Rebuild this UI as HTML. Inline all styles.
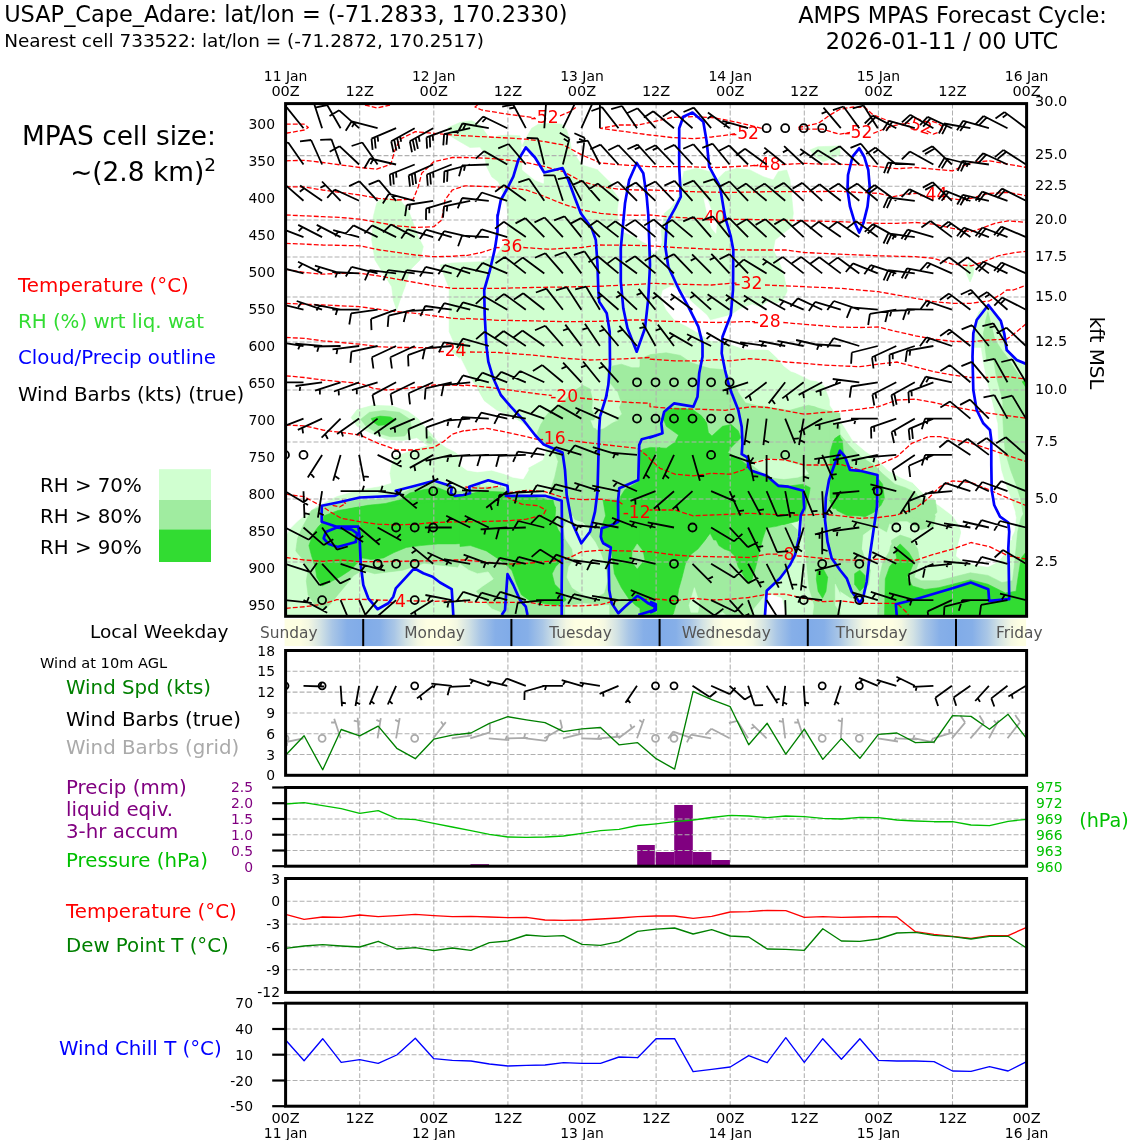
<!DOCTYPE html>
<html><head><meta charset="utf-8"><title>AMPS MPAS Meteogram - USAP_Cape_Adare</title>
<style>html,body{margin:0;padding:0;background:#fff}svg{display:block}</style></head>
<body><svg width="1140" height="1140" viewBox="0 0 1140 1140" font-family="DejaVu Sans, Liberation Sans, sans-serif">
<clipPath id="cm"><rect x="285.6" y="103.6" width="740.9999999999999" height="512.6999999999999"/></clipPath>
<g clip-path="url(#cm)">
<g fill="#d0ffd0" stroke="#d0ffd0" stroke-width="0.6" stroke-linejoin="round">
<polygon points="380.0,200.0 390.0,198.3 400.0,200.0 408.3,210.0 413.3,223.3 418.3,236.7 423.3,246.7 420.0,260.0 410.0,270.0 405.0,286.7 400.0,300.0 396.7,310.0 393.3,300.0 391.7,286.7 383.3,273.3 375.0,260.0 371.7,240.0 373.3,216.7 376.7,203.3"/>
<polygon points="448.3,127.5 460.0,122.5 465.0,121.7 471.7,120.8 480.0,125.0 484.2,130.8 490.0,139.2 498.3,135.8 507.8,135.0 520.0,135.8 521.7,146.7 525.0,140.0 531.7,128.3 538.3,124.2 551.7,123.3 561.7,124.2 566.7,130.0 569.2,138.3 571.7,150.0 581.7,165.0 598.3,170.0 611.7,183.3 618.3,196.7 623.3,198.3 636.7,203.3 660.0,211.7 660.0,360.0 470.0,378.3 465.0,375.0 460.0,356.7 449.2,331.7 449.2,288.3 440.0,265.0 452.0,263.0 465.0,262.5 481.7,261.7 496.7,255.0 507.0,240.0 507.8,215.0 506.7,206.0 505.0,200.0 503.3,193.3 498.3,181.7 491.7,176.7 486.7,166.7 483.3,151.7 480.0,147.0 470.0,147.5 460.0,141.7 450.0,135.8"/>
<polygon points="650.0,210.0 660.0,206.7 670.0,200.0 678.3,183.3 683.3,171.7 696.7,168.3 710.0,171.7 716.7,180.0 725.0,171.7 736.7,168.3 750.0,170.0 763.3,176.7 773.3,180.0 778.3,171.7 786.7,170.0 790.0,180.0 791.7,196.7 793.3,213.3 791.7,226.7 783.3,233.3 775.0,240.0 773.3,250.0 778.3,260.0 783.3,273.3 786.7,286.7 788.3,300.0 780.0,305.0 770.0,300.0 760.0,306.7 746.7,313.3 733.3,316.7 730.0,330.0 728.3,343.3 736.7,346.7 760.0,353.3 776.7,360.0 776.7,366.7 650.0,366.7"/>
<polygon points="810.0,150.0 818.0,146.7 840.0,146.0 840.0,155.0 823.0,161.7 815.0,156.7"/>
<polygon points="965.0,268.0 970.0,262.0 974.0,268.0 973.0,275.0 970.0,282.0 967.0,275.0"/>
<polygon points="286.7,530.0 300.0,516.7 316.7,506.7 336.7,496.7 360.0,490.0 380.0,486.7 391.7,483.3 390.0,473.3 391.7,465.0 395.0,456.7 413.3,450.0 430.0,445.0 436.7,451.7 453.3,460.0 473.3,466.7 493.3,466.7 513.3,463.3 528.3,468.3 543.3,460.0 546.7,450.0 543.3,443.3 528.3,426.7 513.3,416.7 496.7,410.0 483.3,400.0 476.7,386.7 466.7,373.3 461.7,360.0 450.0,350.0 660.0,350.0 660.0,620.0 286.7,620.0"/>
<polygon points="351.1,417.5 357.2,409.6 373.0,405.3 392.3,406.1 408.1,411.4 418.6,419.3 425.6,428.1 432.6,435.1 437.9,442.1 446.7,448.2 455.4,452.6 466.0,461.4 474.7,466.7 480.0,470.2 480.0,482.5 437.9,482.5 392.3,482.5 392.3,470.2 395.8,463.2 406.3,459.6 420.4,457.9 429.1,452.6 430.9,446.5 425.6,443.9 416.8,437.7 402.8,440.4 387.0,439.5 371.2,433.3 357.2,426.3"/>
<polygon points="650.0,350.0 1026.7,350.0 1026.7,616.7 650.0,616.7"/>
<polygon points="986.1,306.3 979.1,311.6 975.6,320.4 977.4,337.9 980.9,358.9 984.4,378.2 987.9,395.8 993.2,409.8 998.4,420.0 1025.6,420.0 1025.6,364.2 1016.0,357.2 1007.2,350.2 1003.7,339.6 996.7,329.1 991.4,315.1"/>
<polygon points="988.3,305.0 976.7,316.7 973.3,333.3 975.0,360.0 1016.7,360.0 1006.7,346.7 1005.0,333.3 998.3,316.7"/>
</g>
<g fill="#ffffff" stroke="#ffffff" stroke-width="0.6" stroke-linejoin="round">
<polygon points="521.7,146.7 522.5,170.0 535.0,180.0 543.3,183.3 544.2,173.3 535.0,157.5 525.8,147.5"/>
<polygon points="766.7,348.0 783.3,363.3 796.7,373.3 810.0,380.0 823.3,381.7 830.0,400.0 836.7,413.3 846.7,426.7 856.7,440.0 870.0,450.0 883.3,463.3 896.7,470.0 910.0,478.3 920.0,490.0 933.3,496.7 943.3,503.3 953.3,513.3 960.0,526.7 966.7,536.7 983.3,543.3 996.7,541.7 1003.3,536.7 1001.7,516.7 999.0,496.7 999.0,476.7 998.3,450.0 997.3,423.3 991.3,400.0 986.3,380.0 983.0,363.3 981.0,350.0 981.0,348.0"/>
<polygon points="662.8,290.5 671.6,286.1 680.4,290.5 692.6,302.8 706.7,315.1 710.2,320.4 731.2,315.1 740.0,308.9 752.3,304.6 762.8,308.1 773.3,306.3 783.9,299.3 788.2,290.5 785.6,280.0 840.0,280.0 840.0,409.8 833.0,406.3 829.5,395.8 824.2,385.3 815.4,380.0 804.9,375.6 790.9,371.2 783.9,366.0 776.8,357.2 769.8,350.2 759.3,347.5 745.3,349.3 733.0,344.9 722.5,341.4 710.2,340.5 697.9,332.6 685.6,325.6 675.1,320.4 666.3,309.8 661.1,297.5"/>
<polygon points="830.0,400.0 830.0,405.3 837.0,415.8 844.0,426.3 852.8,440.4 865.1,450.9 877.4,459.6 887.9,470.2 900.2,477.2 912.5,482.5 921.2,491.2 928.2,498.2 938.8,505.3 952.8,515.8 959.8,526.3 963.3,540.0 1011.6,540.0 1010.7,533.3 1014.2,522.8 1015.1,512.3 1010.7,498.2 1005.4,484.2 1001.1,470.2 998.4,452.6 996.7,435.1 994.0,414.0 991.4,400.0"/>
<polygon points="942.3,500.0 952.8,510.5 959.8,521.1 961.6,531.6 958.1,545.6 956.3,556.1 963.3,561.4 975.6,564.9 987.9,566.7 998.4,561.4 1005.4,552.6 1008.9,542.1 1014.2,531.6 1016.0,517.5 1012.5,507.0 1008.9,500.0"/>
<polygon points="460.0,400.0 481.1,400.0 489.8,410.5 500.4,422.8 512.6,435.1 521.4,447.4 526.7,459.6 528.4,470.2 523.2,478.9 512.6,477.2 503.9,473.7 491.6,470.2 477.5,471.9 467.0,470.2 460.0,464.9"/>
<polygon points="286.1,500.0 320.4,500.0 315.1,507.0 306.3,514.0 297.5,521.1 290.5,528.1 286.1,535.1"/>
<polygon points="768.1,601.8 778.6,605.3 785.6,620.0 768.1,620.0"/>
<polygon points="460.0,357.2 467.0,371.2 474.0,385.3 482.8,399.3 489.8,413.3 493.3,420.0 460.0,420.0"/>
<polygon points="1004.2,340.0 1007.2,350.2 1016.0,357.2 1025.7,364.2 1027.5,364.2 1027.5,340.0"/>
<polygon points="703.7,197.5 707.5,200.0 712.5,213.3 716.7,223.3 715.8,233.3 711.7,228.3 707.5,215.0"/>
<polygon points="598.3,170.0 611.7,183.3 613.2,190.0 619.5,198.4 617.9,208.9 618.4,221.6 623.7,232.1 634.2,236.3 642.6,241.6 648.9,244.7 653.2,253.2 657.4,251.0 661.6,242.6 660.5,230.0 662.6,221.6 663.7,213.2 670.0,207.9 676.3,200.5 679.5,190.0 683.3,171.7 672.0,168.0 640.0,163.0 610.0,165.0"/>
</g>
<g fill="#a0eca0" stroke="#a0eca0" stroke-width="0.6" stroke-linejoin="round">
<polygon points="360.7,419.3 369.5,412.3 383.5,410.5 399.3,412.3 409.8,419.3 411.6,428.1 404.6,436.0 390.5,436.8 376.5,432.5 366.0,426.3"/>
<polygon points="426.5,437.7 430.0,436.0 433.0,439.5 431.2,443.5 427.4,443.0"/>
<polygon points="297.5,540.0 302.8,531.6 315.1,522.8 323.9,514.0 337.9,507.0 353.7,502.6 371.2,500.0 388.8,498.2 399.3,494.7 413.3,487.7 430.9,483.3 444.9,484.2 455.4,491.2 466.0,491.2 480.0,484.2 480.0,540.0"/>
<polygon points="311.6,510.5 320.4,507.0 337.9,503.5 357.2,500.0 480.0,500.0 480.0,566.7 469.5,570.2 455.4,566.7 437.9,564.9 423.9,563.2 413.3,566.7 402.8,570.2 388.8,571.9 374.7,573.7 362.5,570.2 353.7,575.4 346.7,584.2 337.9,594.7 330.9,603.5 323.9,610.5 315.1,605.3 308.1,594.7 306.3,580.7 308.1,570.2 302.8,559.6 295.8,550.9 297.5,538.6 302.8,526.3"/>
<polygon points="607.4,371.2 612.6,366.0 621.4,364.2 631.9,367.7 638.9,367.7 649.5,357.2 660.0,353.7 660.0,420.0 614.4,420.0 621.4,402.8 617.9,392.3 609.1,381.8"/>
<polygon points="542.5,420.0 551.2,409.8 561.8,402.8 572.3,392.3 582.8,385.3 589.8,388.8 592.5,399.3 591.6,409.8 596.8,420.0"/>
<polygon points="544.2,419.3 551.2,412.3 565.3,410.5 579.3,417.5 589.8,419.3 593.3,428.1 600.4,429.8 605.6,424.6 617.9,421.1 623.2,410.5 624.9,400.0 660.0,400.0 660.0,540.0 460.0,540.0 460.0,494.7 470.5,491.2 486.3,486.8 503.9,487.7 507.4,494.7 530.2,495.6 547.7,498.2 551.2,487.7 554.7,477.2 558.2,461.4 554.7,452.6 542.5,443.9 537.2,433.3 540.7,424.6"/>
<polygon points="460.0,500.0 660.0,500.0 660.0,620.0 460.0,620.0"/>
<polygon points="640.0,358.9 650.5,354.6 666.3,352.8 680.4,355.4 690.9,362.5 701.4,366.0 710.2,368.6 722.5,369.5 731.2,378.2 738.2,392.3 745.3,402.8 759.3,406.3 773.3,408.1 787.4,410.7 797.9,413.3 804.9,409.8 811.9,406.3 824.2,409.8 840.0,413.3 840.0,420.0 640.0,420.0"/>
<polygon points="640.0,400.0 741.8,400.0 748.8,407.0 762.8,406.1 773.3,407.9 789.1,410.5 801.4,407.0 808.4,405.3 815.4,407.0 826.0,414.0 833.0,422.8 840.0,426.3 840.0,540.0 640.0,540.0"/>
<polygon points="640.0,500.0 840.0,500.0 840.0,620.0 640.0,620.0"/>
<polygon points="830.0,414.0 835.3,426.3 840.5,435.1 849.3,445.6 859.8,456.1 873.9,464.9 882.6,473.7 894.9,484.2 905.4,487.7 916.0,493.0 921.2,501.8 928.2,508.8 935.3,515.8 933.5,526.3 921.2,529.8 907.2,521.1 900.2,521.1 889.6,522.8 886.1,533.3 882.6,540.0 830.0,540.0"/>
<polygon points="1002.8,400.0 1002.8,417.5 1003.7,435.1 1005.4,452.6 1010.7,470.2 1016.0,484.2 1020.4,498.2 1023.0,512.3 1025.6,519.3 1025.6,400.0"/>
<polygon points="987.9,311.6 985.3,322.1 986.1,337.9 989.6,350.2 994.0,362.5 996.7,378.2 1001.1,394.0 1005.4,409.8 1008.9,420.0 1025.6,420.0 1025.6,381.8 1021.2,378.2 1014.2,367.7 1007.2,357.2 1001.9,350.2 994.9,339.6 990.5,325.6"/>
<polygon points="988.3,313.3 983.3,333.3 986.7,360.0 996.7,360.0 993.3,333.3"/>
<polygon points="830.0,500.0 877.4,500.0 875.6,514.0 868.6,524.6 863.3,535.1 861.6,549.1 865.1,559.6 870.4,570.2 868.6,584.2 861.6,594.7 851.1,598.2 840.5,591.2 835.3,578.9 830.0,573.7"/>
<polygon points="877.4,500.0 935.3,500.0 937.0,512.3 928.2,521.1 912.5,517.5 900.2,517.5 891.4,524.6 882.6,517.5"/>
<polygon points="877.4,620.0 879.1,578.9 882.6,563.2 889.6,550.9 891.4,540.4 900.2,535.1 910.7,538.6 917.7,549.1 919.5,559.6 916.0,570.2 914.2,577.2 921.2,580.7 938.8,580.7 952.8,577.2 970.4,572.8 987.9,575.4 1001.9,582.5 1012.5,580.7 1014.2,566.7 1016.0,549.1 1017.7,531.6 1021.2,517.5 1025.6,510.5 1025.6,620.0"/>
</g>
<g fill="#d0ffd0" stroke="#d0ffd0" stroke-width="0.6" stroke-linejoin="round">
<polygon points="593.3,422.8 598.6,410.5 605.6,403.5 617.9,405.3 621.4,414.0 614.4,421.1 603.9,428.1 596.8,429.8"/>
<polygon points="572.3,519.3 582.8,540.0 589.8,529.8 582.8,522.8"/>
<polygon points="457.4,568.4 460.0,564.0 468.8,570.2 477.5,573.7 488.1,571.9 493.3,578.9 482.8,586.0 475.8,591.2 484.6,601.8 491.6,608.8 500.4,612.3 502.1,620.0 457.4,620.0"/>
<polygon points="567.0,521.1 572.3,515.8 575.8,522.8 582.8,529.8 589.8,535.1 595.1,542.1 600.4,552.6 605.6,566.7 607.4,580.7 603.9,593.0 593.3,598.2 582.8,594.7 572.3,587.7 567.0,577.2 568.8,566.7 574.0,559.6 572.3,549.1 565.3,538.6 563.5,528.1"/>
<polygon points="565.3,607.0 582.8,603.5 609.1,605.3 609.1,620.0 565.3,620.0"/>
<polygon points="755.8,461.4 766.3,458.8 780.4,459.6 792.6,463.2 803.2,465.8 808.4,473.7 797.9,477.2 783.9,478.9 769.8,477.2 759.3,470.2 752.3,464.9"/>
<polygon points="766.3,528.1 780.4,524.6 790.9,522.8 797.9,529.8 799.6,543.9 796.1,557.9 789.1,566.7 780.4,577.2 769.8,587.7 762.8,598.2 754.0,608.8 752.3,620.0 811.9,620.0 813.7,605.3 808.4,587.7 806.7,570.2 804.9,552.6 803.2,535.1 801.4,521.1"/>
<polygon points="689.1,605.3 694.4,587.7 699.6,603.5 697.9,612.3 690.9,612.3"/>
<polygon points="710.2,620.0 722.5,612.3 731.2,620.0"/>
<polygon points="835.3,584.2 840.5,594.7 847.5,605.3 840.5,612.3 835.3,605.3"/>
<polygon points="863.3,535.1 875.6,526.3 887.9,533.3 891.4,543.9 882.6,554.4 870.4,559.6 862.5,549.1"/>
</g>
<g fill="#ffffff" stroke="#ffffff" stroke-width="0.6" stroke-linejoin="round">
<polygon points="766.7,593.3 781.7,598.3 785.8,615.0 765.8,615.0"/>
</g>
<g fill="#32dc32" stroke="#32dc32" stroke-width="0.6" stroke-linejoin="round">
<polygon points="371.2,418.4 380.0,416.1 390.5,417.0 395.8,420.2 388.8,424.6 378.2,425.4 373.0,421.9"/>
<polygon points="316.8,540.0 320.4,526.3 323.9,521.1 332.6,514.0 350.2,508.8 367.7,505.3 385.3,503.5 399.3,500.0 409.8,493.0 423.9,489.5 437.9,487.7 446.7,491.2 455.4,496.5 466.0,495.6 480.0,491.2 480.0,540.0"/>
<polygon points="322.1,522.8 323.9,515.8 337.9,510.5 358.9,507.0 385.3,505.3 402.8,503.5 480.0,500.0 480.0,542.1 455.4,543.9 437.9,543.9 420.4,545.6 406.3,547.4 394.0,552.6 383.5,557.9 371.2,559.6 362.5,557.9 357.2,563.2 350.2,570.2 339.6,577.2 329.1,582.5 322.1,586.0 316.8,577.2 315.1,566.7 311.6,556.1 308.9,545.6 313.3,533.3 318.6,526.3"/>
<polygon points="460.0,497.4 470.5,493.9 486.3,491.2 503.9,492.1 507.4,496.5 530.2,496.8 546.0,499.1 555.6,507.0 553.9,517.5 551.2,524.6 557.4,533.3 563.5,540.0 460.0,540.0"/>
<polygon points="660.0,447.4 649.5,450.9 642.5,457.9 640.7,478.9 637.2,482.5 624.9,489.5 620.5,496.5 620.5,521.1 614.4,526.3 605.6,529.8 603.0,540.0 660.0,540.0"/>
<polygon points="460.0,500.0 553.0,500.0 555.6,510.5 554.7,521.1 558.2,529.8 561.8,535.1 562.6,559.6 555.6,566.7 552.1,573.7 554.7,584.2 561.8,591.2 566.1,600.0 558.2,605.3 544.2,603.5 530.2,600.9 521.4,594.7 516.1,582.5 511.8,570.2 502.1,561.4 486.3,550.9 470.5,545.6 460.0,546.5"/>
<polygon points="603.0,500.0 605.6,515.8 600.4,529.8 602.1,540.4 610.9,547.4 612.6,559.6 614.4,573.7 621.4,587.7 628.4,598.2 635.4,605.3 646.0,612.3 660.0,614.0 660.0,500.0"/>
<polygon points="661.1,420.0 666.3,411.6 675.1,408.9 689.1,410.7 699.6,415.1 704.9,420.0"/>
<polygon points="640.0,450.9 643.5,449.1 650.5,447.4 666.3,448.2 675.1,442.1 678.6,435.1 666.3,426.3 662.8,417.5 666.3,410.5 675.1,407.9 692.6,409.6 701.4,415.8 706.7,422.8 708.4,432.5 711.9,436.0 722.5,426.3 731.2,424.6 738.2,430.7 740.9,437.7 731.2,447.4 727.7,452.6 738.2,457.9 747.0,464.9 752.3,470.2 766.3,477.2 776.8,484.2 789.1,486.0 803.2,484.2 810.2,487.7 808.4,498.2 804.9,512.3 797.9,521.1 783.9,524.6 773.3,522.8 762.8,529.8 752.3,540.0 713.7,540.0 710.2,533.3 704.9,540.0 640.0,540.0"/>
<polygon points="834.7,438.6 840.0,435.1 840.0,487.7 834.7,494.7 831.2,484.2 833.0,461.4 834.7,443.9"/>
<polygon points="640.0,500.0 803.2,500.0 803.2,514.0 797.9,519.3 789.1,522.8 776.8,526.3 766.3,528.1 762.8,538.6 759.3,552.6 755.8,566.7 752.3,578.9 748.8,584.2 743.5,575.4 738.2,566.7 734.7,556.1 729.5,550.9 724.2,549.1 718.9,545.6 713.7,535.1 710.2,531.6 704.9,540.4 697.9,549.1 690.9,554.4 685.6,563.2 682.1,577.2 678.6,589.5 676.8,601.8 673.3,614.0 666.3,620.0 640.0,620.0"/>
<polygon points="817.2,570.2 822.5,567.5 827.7,577.2 826.0,591.2 822.5,598.2 818.1,591.2 816.3,578.9"/>
<polygon points="829.5,500.0 840.0,500.0 840.0,507.0 833.0,508.8"/>
<polygon points="833.5,440.4 838.8,436.0 842.3,440.4 843.2,450.9 849.3,468.4 875.6,475.4 882.6,484.2 884.4,498.2 880.9,505.3 873.9,512.3 865.1,516.7 851.1,514.0 840.5,508.8 833.5,501.8 830.0,498.2 830.0,452.6"/>
<polygon points="1022.1,381.8 1025.6,380.0 1025.6,387.0"/>
<polygon points="830.0,500.0 875.6,500.0 873.9,510.5 865.1,515.8 847.5,515.8 837.0,510.5"/>
<polygon points="854.6,573.7 859.8,570.2 865.1,575.4 865.1,586.0 859.8,591.2 854.6,584.2"/>
<polygon points="884.4,620.0 885.3,578.9 889.6,566.7 896.7,557.9 894.9,549.1 900.2,543.9 908.9,552.6 914.2,561.4 910.7,570.2 907.2,577.2 912.5,586.0 924.7,589.5 938.8,587.7 952.8,584.2 970.4,579.8 987.9,584.2 1005.4,593.0 1016.0,591.2 1018.6,573.7 1021.2,557.9 1025.6,552.6 1025.6,620.0"/>
</g>
<g fill="#a0eca0" stroke="#a0eca0" stroke-width="0.6" stroke-linejoin="round">
<polygon points="632.8,550.9 637.2,543.9 642.5,550.9 644.2,559.6 637.2,568.4 631.9,561.4"/>
</g>
<line x1="359.7" y1="103.6" x2="359.7" y2="616.3" stroke="#b0b0b0" stroke-width="1.05" stroke-dasharray="4.9,2.1" fill="none"/>
<line x1="433.8" y1="103.6" x2="433.8" y2="616.3" stroke="#b0b0b0" stroke-width="1.05" stroke-dasharray="4.9,2.1" fill="none"/>
<line x1="507.9" y1="103.6" x2="507.9" y2="616.3" stroke="#b0b0b0" stroke-width="1.05" stroke-dasharray="4.9,2.1" fill="none"/>
<line x1="582.0" y1="103.6" x2="582.0" y2="616.3" stroke="#b0b0b0" stroke-width="1.05" stroke-dasharray="4.9,2.1" fill="none"/>
<line x1="656.1" y1="103.6" x2="656.1" y2="616.3" stroke="#b0b0b0" stroke-width="1.05" stroke-dasharray="4.9,2.1" fill="none"/>
<line x1="730.2" y1="103.6" x2="730.2" y2="616.3" stroke="#b0b0b0" stroke-width="1.05" stroke-dasharray="4.9,2.1" fill="none"/>
<line x1="804.3" y1="103.6" x2="804.3" y2="616.3" stroke="#b0b0b0" stroke-width="1.05" stroke-dasharray="4.9,2.1" fill="none"/>
<line x1="878.4" y1="103.6" x2="878.4" y2="616.3" stroke="#b0b0b0" stroke-width="1.05" stroke-dasharray="4.9,2.1" fill="none"/>
<line x1="952.5" y1="103.6" x2="952.5" y2="616.3" stroke="#b0b0b0" stroke-width="1.05" stroke-dasharray="4.9,2.1" fill="none"/>
<line x1="285.6" y1="155.6" x2="1026.6" y2="155.6" stroke="#b0b0b0" stroke-width="1.05" stroke-dasharray="4.9,2.1" fill="none"/>
<line x1="285.6" y1="186.3" x2="1026.6" y2="186.3" stroke="#b0b0b0" stroke-width="1.05" stroke-dasharray="4.9,2.1" fill="none"/>
<line x1="285.6" y1="220.0" x2="1026.6" y2="220.0" stroke="#b0b0b0" stroke-width="1.05" stroke-dasharray="4.9,2.1" fill="none"/>
<line x1="285.6" y1="257.0" x2="1026.6" y2="257.0" stroke="#b0b0b0" stroke-width="1.05" stroke-dasharray="4.9,2.1" fill="none"/>
<line x1="285.6" y1="297.0" x2="1026.6" y2="297.0" stroke="#b0b0b0" stroke-width="1.05" stroke-dasharray="4.9,2.1" fill="none"/>
<line x1="285.6" y1="342.0" x2="1026.6" y2="342.0" stroke="#b0b0b0" stroke-width="1.05" stroke-dasharray="4.9,2.1" fill="none"/>
<line x1="285.6" y1="390.0" x2="1026.6" y2="390.0" stroke="#b0b0b0" stroke-width="1.05" stroke-dasharray="4.9,2.1" fill="none"/>
<line x1="285.6" y1="442.0" x2="1026.6" y2="442.0" stroke="#b0b0b0" stroke-width="1.05" stroke-dasharray="4.9,2.1" fill="none"/>
<line x1="285.6" y1="499.0" x2="1026.6" y2="499.0" stroke="#b0b0b0" stroke-width="1.05" stroke-dasharray="4.9,2.1" fill="none"/>
<line x1="285.6" y1="562.0" x2="1026.6" y2="562.0" stroke="#b0b0b0" stroke-width="1.05" stroke-dasharray="4.9,2.1" fill="none"/>
<g fill="none" stroke="#ff0000" stroke-width="1.3" stroke-dasharray="4.9,2.1" stroke-linejoin="round">
<polyline points="365.0,105.0 376.7,108.0 390.0,105.0"/>
<polyline points="285.8,124.2 304.2,124.2 308.3,127.5 304.2,130.0 285.8,133.3"/>
<polyline points="477.5,105.0 475.0,107.0 481.7,110.0 507.8,114.2 526.5,116.7 535.0,118.0"/>
<polyline points="560.0,115.8 570.0,111.7 575.8,107.5"/>
<polyline points="761.7,128.3 748.7,125.0 730.2,120.8 711.7,117.5 693.2,116.7 671.7,117.5 650.0,122.5 637.5,125.0 619.0,125.0 600.5,128.3 619.0,130.8 637.5,133.3 650.0,135.0 671.7,137.5 693.2,138.7 711.7,137.0 730.2,134.7 736.7,133.3"/>
<polyline points="798.3,127.5 818.3,123.3 830.0,115.0 840.0,109.2 853.3,107.0 865.0,107.5 873.3,115.0 888.3,120.8 903.3,125.0 910.0,126.3"/>
<polyline points="798.3,129.2 822.8,129.2 833.3,132.5 840.0,134.2 850.0,132.5"/>
<polyline points="873.3,133.3 881.7,130.0 895.0,125.3 906.7,123.3"/>
<polyline points="926.7,130.8 933.3,134.2 940.0,131.7 943.3,127.5 938.3,123.3 930.0,120.8"/>
<polyline points="285.8,160.8 304.2,160.3 322.7,162.5 341.2,165.0 359.7,167.5 376.7,169.2 390.8,164.2 395.0,150.0 400.0,139.2 415.3,131.7 433.8,133.3 452.3,135.0 465.0,135.8 489.3,137.0 507.8,138.0 526.5,139.2 545.0,141.7 563.5,145.0 582.0,155.0 600.5,163.0 619.0,164.7 637.5,165.8 650.0,166.7 683.3,166.7 716.7,167.5 750.0,165.8 758.3,165.0"/>
<polyline points="781.7,164.7 804.3,163.3 822.8,164.2 840.0,164.2 859.8,165.0 878.3,166.7 897.0,168.7 915.5,167.5 934.0,169.2 952.5,170.8 961.7,166.7 971.0,162.5 989.5,160.8 1008.2,164.2 1026.7,167.5"/>
<polyline points="285.8,186.7 304.2,187.0 322.7,190.0 341.2,192.5 359.7,195.0 378.2,198.3 396.8,200.0 413.3,199.2 418.3,186.7 421.7,173.3 433.8,161.7 452.3,157.5 465.0,157.5 489.3,158.3 507.8,160.0 526.5,162.5 545.0,166.7 563.5,171.7 582.0,181.7 600.5,186.7 619.0,189.2 637.5,190.0 650.0,190.0 693.2,191.7 730.2,192.5 767.3,191.7 804.3,191.7 840.0,191.3 859.8,192.5 878.3,193.3 893.3,196.7 906.7,194.2 918.3,193.3"/>
<polyline points="948.3,198.3 961.7,200.0 971.0,198.3 989.5,193.3 1008.2,192.5 1026.7,195.8"/>
<polyline points="285.8,215.0 304.2,215.8 322.7,216.7 341.2,217.5 359.7,219.2 378.2,222.5 396.8,225.8 415.3,227.5 433.8,226.7 441.7,220.0 445.0,200.0 452.3,190.0 465.0,185.8 489.3,186.7 507.8,187.5 526.5,190.0 545.0,196.7 563.5,204.2 582.0,210.0 600.5,213.3 619.0,215.0 637.5,215.3 650.0,215.0 666.7,216.7 693.2,218.3 703.3,218.7"/>
<polyline points="726.7,219.2 767.3,219.7 804.3,220.8 840.0,221.7 859.8,222.5 878.3,223.3 897.0,223.3 915.5,222.5 934.0,224.2 952.5,228.3 971.0,231.7 981.7,228.3 995.0,223.3 1008.2,220.8 1026.7,222.5"/>
<polyline points="285.8,243.3 322.7,245.0 359.7,245.8 380.0,250.0 415.3,255.0 433.8,256.7 452.3,256.3 465.0,255.3 465.0,255.8 481.7,252.5 494.2,248.3"/>
<polyline points="523.3,247.5 548.3,249.2 581.7,247.5 598.3,245.0 631.7,245.3 650.0,245.8 650.0,245.8 675.0,247.5 711.7,249.2 748.7,250.0 785.8,250.0 804.3,252.5 840.0,254.2 859.8,255.0 878.3,255.8 915.5,256.7 934.0,258.3 952.5,264.2 971.0,265.8 981.7,262.5 998.3,255.8 1015.0,252.5 1026.7,251.3"/>
<polyline points="285.8,269.2 304.2,272.5 322.7,274.2 341.2,273.3 359.7,273.3 378.2,275.8 396.8,279.2 415.3,282.5 433.8,285.8 452.3,288.3 465.0,288.3 465.0,288.3 498.3,288.3 531.7,287.5 565.0,287.0 598.3,286.3 631.7,284.7 650.0,283.7 650.0,283.3 675.0,284.2 711.7,285.0 730.2,283.3 738.3,283.0"/>
<polyline points="765.0,285.0 804.3,286.7 840.0,288.3 878.3,291.7 915.5,298.3 934.0,301.7 952.5,303.3 971.0,303.3 989.5,300.8 1000.0,295.0 1006.7,290.0 1013.3,290.0 1026.7,285.0"/>
<polyline points="285.8,303.3 304.2,304.2 322.7,305.0 341.2,305.8 359.7,306.7 378.2,309.2 396.8,311.7 415.3,313.3 433.8,315.8 452.3,318.3 465.0,319.2 465.0,318.3 498.3,320.3 531.7,320.8 565.0,321.7 598.3,321.3 631.7,320.0 650.0,320.0 650.0,320.8 683.3,321.7 716.7,322.5 741.7,321.7 755.0,321.7"/>
<polyline points="783.3,322.5 808.3,324.7 840.0,327.0 859.8,327.5 878.3,327.0 897.0,331.7 915.5,335.8 934.0,339.2 952.5,341.3 971.0,341.7 989.5,340.0 1006.7,339.2 1016.7,331.7 1026.7,323.3"/>
<polyline points="285.8,337.5 304.2,338.3 322.7,340.8 341.2,342.5 359.7,344.2 378.2,346.7 396.8,347.5 415.3,347.5 436.7,347.8"/>
<polyline points="470.0,352.0 498.3,352.5 531.7,355.0 565.0,358.3 590.0,360.0 615.0,359.2 650.0,357.5 650.0,359.2 675.0,360.8 700.0,360.8 716.7,359.7 730.2,360.8 748.7,358.7 767.3,360.0 785.8,362.0 804.3,363.3 822.8,365.0 840.0,365.8 859.8,366.7 878.3,364.2 897.0,362.0 915.5,367.0 934.0,371.7 952.5,375.0 971.0,377.5 989.5,377.5 1008.2,376.7 1026.7,379.2"/>
<polyline points="285.8,375.8 304.2,377.5 322.7,380.0 341.2,381.7 359.7,383.3 373.3,388.3 386.7,390.0 396.8,389.2 415.3,387.5 433.8,385.0 452.3,385.0 465.0,385.8 465.0,385.0 490.0,387.5 515.0,390.8 540.0,394.2 551.7,395.5"/>
<polyline points="580.0,398.0 606.7,400.8 631.7,402.5 650.0,403.3 650.0,406.7 675.0,408.7 700.0,409.2 725.0,410.3 741.7,408.0 753.3,406.7 767.3,407.5 785.8,410.8 804.3,414.2 822.8,412.5 840.0,411.3 859.8,409.2 878.3,406.7 897.0,400.0 915.5,399.2 934.0,402.5 952.5,406.7 971.0,410.0 989.5,413.3 1008.2,415.8 1026.7,418.3"/>
<polyline points="285.8,425.0 304.2,425.8 322.7,430.0 341.2,432.5 359.7,435.0 378.2,443.3 396.8,450.0 415.3,450.0 433.8,447.5 443.3,441.7 452.3,434.2 465.0,430.3 465.0,430.8 486.7,428.3 507.8,432.5 526.5,436.7 538.3,439.7"/>
<polyline points="568.3,440.3 600.5,444.2 637.5,448.3 648.3,456.7 650.0,459.2 660.0,468.3 675.0,474.2 693.2,475.8 711.7,473.3 730.2,474.2 743.3,470.0 751.7,463.3 767.3,459.2 785.8,460.0 804.3,465.0 822.8,465.0 840.0,464.2 859.8,470.0 878.3,465.0 897.0,456.7 911.7,443.3 928.3,436.7 940.0,436.7 952.5,439.2 971.0,443.3 989.5,449.2 1008.2,455.8 1026.7,461.7"/>
<polyline points="285.8,494.2 304.2,496.7 313.3,501.7 322.7,506.7 330.0,511.7 341.2,518.3 359.7,521.7 378.2,524.2 396.8,525.0 415.3,524.2 433.8,522.5 452.3,522.0 465.0,521.7 465.0,522.0 489.3,521.3 507.8,520.8 526.5,519.2 543.3,515.0 545.8,510.0 538.3,505.8 521.7,504.2 507.8,497.5 510.0,492.5 526.5,490.3 545.0,491.7 563.5,497.5 582.0,499.7 600.5,499.2 619.0,501.7 622.5,504.2"/>
<polyline points="652.5,510.0 650.0,510.0 674.7,510.0 693.2,515.8 711.7,515.0 730.2,514.2 748.7,513.3 767.3,514.2 785.8,515.0 804.3,515.0 822.8,514.2 840.0,515.8 859.8,518.3 878.3,517.5 897.0,515.0 915.5,508.3 928.3,498.3 940.0,486.7 952.5,480.8 971.0,482.5 989.5,490.0 1008.2,498.3 1026.7,505.8"/>
<polyline points="465.3,487.0 477.5,488.2 488.0,488.0 500.4,486.0"/>
<polyline points="332.6,505.3 339.6,507.0 345.5,503.5 342.0,499.5"/>
<polyline points="285.8,557.5 304.2,560.0 322.7,561.3 341.2,560.0 359.7,561.7 373.3,561.7 433.8,560.8 452.3,560.0 465.0,560.0 465.0,560.0 489.3,562.5 507.8,564.2 526.5,563.3 545.0,561.7 563.5,560.0 573.3,555.8 582.0,551.7 600.5,550.3 637.5,551.3 650.0,551.7 650.0,551.7 674.7,555.0 693.2,556.3 711.7,556.7 730.2,557.0 748.7,557.5 767.3,554.2 779.2,554.2"/>
<polyline points="796.7,555.8 822.8,558.3 840.0,559.7 859.8,560.3 878.3,559.2 897.0,560.0 910.0,560.8 915.5,560.3 934.0,554.2 952.5,549.2 971.0,542.5 989.5,546.7 1008.2,555.8 1026.7,559.2"/>
<polyline points="285.8,608.3 305.0,606.7 322.7,604.2 336.7,599.7 359.7,599.2 378.2,600.0 389.2,600.3"/>
<polyline points="406.7,600.8 433.8,601.3 452.3,600.8 465.0,600.2 465.0,602.0 489.3,602.5 507.8,602.5 526.5,602.0 535.0,603.3 545.0,605.3 563.5,605.8 582.0,605.8 600.5,604.7 610.0,602.0 619.0,600.3 637.5,600.0 650.0,599.2 650.0,598.3 674.7,600.8 693.2,598.3 711.7,600.0 730.2,599.2 748.7,597.5 767.3,594.2 785.8,594.2 804.3,598.3 822.8,601.7 840.0,600.8 859.8,603.3 878.3,603.3 897.0,603.3 906.7,612.5 908.3,615.0"/>
</g>
<text x="544.6" y="122.9" font-size="17.2" fill="#ff0000" text-anchor="middle">-52</text>
<text x="745.0" y="138.7" font-size="17.2" fill="#ff0000" text-anchor="middle">-52</text>
<text x="858.3" y="137.9" font-size="17.2" fill="#ff0000" text-anchor="middle">-52</text>
<text x="918.3" y="131.2" font-size="17.2" fill="#ff0000" text-anchor="middle" transform="rotate(18 918.3 125.0)">-52</text>
<text x="766.7" y="170.4" font-size="17.2" fill="#ff0000" text-anchor="middle">-48</text>
<text x="933.3" y="199.5" font-size="17.2" fill="#ff0000" text-anchor="middle">-44</text>
<text x="711.7" y="222.9" font-size="17.2" fill="#ff0000" text-anchor="middle">-40</text>
<text x="508.3" y="252.0" font-size="17.2" fill="#ff0000" text-anchor="middle">-36</text>
<text x="748.3" y="288.7" font-size="17.2" fill="#ff0000" text-anchor="middle">-32</text>
<text x="766.7" y="327.0" font-size="17.2" fill="#ff0000" text-anchor="middle">-28</text>
<text x="452.5" y="356.2" font-size="17.2" fill="#ff0000" text-anchor="middle">-24</text>
<text x="564.2" y="402.0" font-size="17.2" fill="#ff0000" text-anchor="middle">-20</text>
<text x="551.7" y="443.7" font-size="17.2" fill="#ff0000" text-anchor="middle">-16</text>
<text x="636.7" y="517.9" font-size="17.2" fill="#ff0000" text-anchor="middle">-12</text>
<text x="785.8" y="559.5" font-size="17.2" fill="#ff0000" text-anchor="middle">-8</text>
<text x="397.5" y="607.0" font-size="17.2" fill="#ff0000" text-anchor="middle">-4</text>
<g fill="none" stroke="#0000ff" stroke-width="2.7" stroke-linejoin="round" stroke-linecap="butt">
<polygon points="525.8,147.5 535.0,157.5 544.2,172.5 562.5,168.0 568.3,180.0 575.0,198.3 580.8,213.3 591.7,228.3 595.8,240.0 597.5,265.0 598.3,290.0 599.2,301.7 606.7,313.3 609.7,331.7 610.0,365.0 608.3,385.0 605.8,398.3 606.7,395.0 600.0,416.7 599.2,428.3 598.3,461.7 597.5,491.7 595.0,511.7 590.0,531.7 581.3,543.3 571.7,521.7 566.7,495.0 565.0,470.0 562.5,452.5 543.3,444.2 535.0,435.0 523.3,420.0 510.8,406.7 500.8,395.0 493.3,378.3 488.3,361.7 486.3,345.0 484.7,315.0 484.2,290.0 490.0,270.0 495.0,248.3 497.5,231.7 497.5,215.0 497.5,216.7 500.8,200.0 507.8,187.5 513.3,176.7 518.3,160.0"/>
<polygon points="636.7,163.0 629.2,180.0 625.0,203.3 622.5,230.0 620.8,248.3 620.8,281.7 623.3,308.3 627.5,328.3 636.7,351.7 645.0,328.3 648.3,298.3 650.0,265.0 649.2,240.0 648.3,215.0 646.7,196.7 643.3,173.3"/>
<polyline points="638.3,615.0 654.2,610.0 655.0,606.7 648.3,603.3 641.7,598.3 637.5,595.8 625.0,606.7 618.3,613.3 611.7,603.3 609.2,590.0 608.7,565.0 610.8,547.5 603.3,543.3 601.7,540.0 600.8,536.7 601.7,528.3 611.7,525.0 618.3,521.7 618.0,501.7 619.2,488.3 638.3,480.0 639.2,445.0 641.7,439.2 655.0,435.8 650.0,437.5 662.5,433.3 661.3,423.3 664.2,411.7 674.2,403.3 693.3,406.7 697.5,396.7 699.2,373.3 702.5,356.7 702.5,343.3 698.3,326.7 688.3,306.7 679.2,290.0 668.3,266.7 665.3,246.7 666.7,223.3 675.0,208.3 680.8,196.7 679.2,166.7 679.2,128.3 683.3,116.7 692.5,112.5 703.3,121.7 706.7,141.7 709.2,166.7 720.0,186.7 725.0,216.7 730.8,236.7 733.3,250.0 733.0,290.0 730.8,315.0 722.5,336.7 721.7,353.3 725.0,370.0 728.3,383.3 731.7,393.3 738.3,410.0 741.7,426.7 742.5,443.3 741.7,454.2 747.5,457.5 748.3,466.7 751.7,470.8 766.7,475.8 778.3,485.8 788.3,486.7 803.3,490.8 804.2,508.3 800.8,515.0 799.2,536.7 795.0,555.0 790.0,565.0 780.0,578.3 766.7,590.8 765.0,615.0"/>
<polyline points="650.0,601.7 655.8,604.2 655.8,610.0 650.0,612.5"/>
<polygon points="859.2,148.3 864.2,156.7 868.3,170.0 869.7,186.7 867.5,206.7 863.3,223.3 859.2,232.5 855.0,223.3 850.0,206.7 847.5,190.0 848.0,175.0 852.5,156.7"/>
<polyline points="1026.7,364.2 1016.7,360.0 1006.7,350.0 1004.2,333.3 1000.8,320.8 988.3,305.0 976.7,320.0 973.3,333.3 972.5,356.7 973.3,390.0 976.7,410.0 983.3,423.3 990.0,430.0 991.3,440.0 991.3,465.0 991.7,490.0 994.2,505.0 1000.0,516.7 1008.3,522.5 1009.2,531.7 1008.3,548.3 1008.7,565.0 1009.2,599.2 989.2,600.8 988.3,589.2 970.8,582.5 952.5,588.3 915.5,599.2 895.8,604.2 896.7,615.0"/>
<polygon points="840.0,450.8 835.0,463.3 829.0,480.0 825.8,498.0 825.0,520.0 827.5,541.7 831.7,558.3 840.0,570.0 846.7,578.3 851.7,591.7 856.7,598.3 860.0,603.3 863.3,596.7 866.7,581.7 869.2,560.0 873.3,531.7 877.0,506.7 877.5,475.0 860.0,470.8 850.0,470.0 845.0,456.7"/>
<polyline points="453.3,615.0 452.5,601.7 451.7,589.2 440.0,582.5 432.5,576.7 423.3,573.3 414.2,568.3 395.8,588.3 393.3,596.7 388.3,603.3 377.5,609.2 368.3,598.3 363.3,585.0 360.8,565.0 359.7,540.0 359.7,536.7 358.3,526.7 336.7,526.7 321.7,521.7 321.7,505.8 341.2,501.7 359.7,497.5 395.0,495.8 400.0,493.3 395.8,490.8 415.3,485.8 434.2,480.8 450.0,485.8 451.7,488.3 450.8,493.3 455.0,495.8 463.3,495.0 470.0,493.3 469.2,486.7 488.3,480.3 507.5,485.8 508.0,491.7 505.8,495.8 545.0,495.8 561.7,500.8 562.2,545.0 561.7,585.0 561.7,615.0"/>
<polygon points="336.7,527.5 325.8,532.0 323.7,538.3 328.3,543.7 337.5,547.0 355.8,542.0 357.0,533.3 351.7,529.7"/>
<polyline points="501.7,615.0 505.0,610.0 507.5,574.2 513.3,585.0 520.0,600.0 525.8,606.7 527.5,615.0"/>
</g>
<path d="M285.0,128.2L268.5,107.1M268.5,107.1L258.0,111.0M303.5,128.2L286.7,107.4M286.7,107.4L276.2,111.5M322.1,128.2L313.8,102.7M313.8,102.7L302.5,102.8M340.6,128.2L327.2,105.0M327.2,105.0L316.2,107.4M359.1,128.2L339.2,110.3M339.2,110.3L329.5,116.0M377.6,128.2L351.7,121.3M351.7,121.3L345.7,130.8M355.0,122.1L352.0,126.9M396.1,128.2L371.5,138.7M371.5,138.7L372.6,149.8M374.6,137.4L375.7,148.5M377.6,136.1L378.2,141.6M414.7,128.2L391.2,141.2M391.2,141.2L393.5,152.2M394.2,139.6L396.4,150.6M397.1,137.9L399.4,148.9M400.0,136.3L401.2,141.8M433.2,128.2L409.8,141.2M409.8,141.2L412.0,152.2M412.7,139.6L415.0,150.6M415.6,137.9L417.9,148.9M418.6,136.3L419.7,141.8M451.7,128.2L426.5,137.4M426.5,137.4L427.1,148.6M429.7,136.2L430.2,147.4M432.8,135.1L433.1,140.7M470.2,128.2L444.1,134.2M444.1,134.2L443.3,145.4M447.4,133.5L446.5,144.7M488.8,128.2L462.4,123.5M462.4,123.5L457.2,133.5M465.7,124.1L463.1,129.1M507.3,128.2L483.2,116.5M483.2,116.5L475.5,124.6M486.2,117.9L482.4,122.0M525.8,128.2L513.2,104.5M513.2,104.5L502.2,106.6M514.8,107.5L509.3,108.5M544.3,128.2L546.2,101.5M546.2,101.5L535.8,97.4M562.9,128.2L574.6,104.1M574.6,104.1L566.5,96.4M581.4,128.2L592.3,103.7M592.3,103.7L583.9,96.3M599.9,128.2L599.9,101.4M599.9,101.4L589.2,98.0M618.5,128.2L602.0,107.1M602.0,107.1L591.4,111.0M637.0,128.2L622.0,106.0M622.0,106.0L611.2,109.2M655.5,128.2L637.6,108.3M637.6,108.3L627.4,113.0M674.0,128.2L653.2,111.3M653.2,111.3L643.8,117.6M692.5,128.2L672.3,110.6M672.3,110.6L662.8,116.5M711.1,128.2L693.8,107.7M693.8,107.7L683.5,112.0M729.6,128.2L707.9,112.4M712.0,115.4L707.5,118.8M748.1,128.2L722.4,120.8M727.2,122.2L724.1,126.9M840.8,128.2L823.5,107.7M826.8,111.5L821.6,113.7M859.3,128.2L843.5,106.5M843.5,106.5L832.9,110.1M877.8,128.2L863.6,105.5M863.6,105.5L852.7,108.3M896.3,128.2L872.7,115.6M872.7,115.6L864.7,123.5M875.6,117.2L867.6,125.1M914.8,128.2L889.1,120.8M889.1,120.8L882.9,130.2M892.3,121.7L886.1,131.1M933.4,128.2L910.2,114.8M910.2,114.8L901.9,122.4M913.1,116.5L904.8,124.1M951.9,128.2L927.6,116.9M927.6,116.9L920.0,125.2M930.6,118.3L923.1,126.6M970.4,128.2L944.0,123.5M944.0,123.5L938.9,133.5M947.3,124.1L942.2,134.1M988.9,128.2L963.2,120.8M963.2,120.8L957.0,130.2M966.4,121.7L960.2,131.1M1007.5,128.2L983.6,116.0M983.6,116.0L975.7,124.1M986.6,117.6L978.7,125.6M1026.0,128.2L1004.6,112.1M1004.6,112.1L995.5,118.6M1007.3,114.1L1002.7,117.4M285.0,164.5L268.1,143.7M268.1,143.7L257.7,147.8M303.5,164.5L288.2,142.5M288.2,142.5L277.5,146.0M322.1,164.5L311.1,140.0M311.1,140.0L300.0,141.3M340.6,164.5L331.4,139.3M331.4,139.3L320.2,139.8M359.1,164.5L339.5,146.2M339.5,146.2L329.7,151.8M377.6,164.5L362.3,142.5M362.3,142.5L351.6,146.0M396.1,164.5L370.0,158.5M370.0,158.5L364.4,168.2M373.3,159.2L370.5,164.1M414.7,164.5L389.8,174.5M389.8,174.5L390.7,185.7M392.9,173.3L393.8,184.5M396.0,172.0L396.5,177.6M433.2,164.5L408.7,175.4M408.7,175.4L410.0,186.6M411.8,174.0L413.1,185.2M414.8,172.7L416.1,183.8M451.7,164.5L426.9,174.5M426.9,174.5L427.8,185.7M430.0,173.3L430.9,184.5M433.1,172.0L433.5,177.6M470.2,164.5L444.4,171.4M444.4,171.4L443.9,182.7M447.6,170.6L447.1,181.8M488.8,164.5L462.0,165.4M462.0,165.4L459.0,176.3M465.3,165.3L463.9,170.7M507.3,164.5L484.1,151.1M484.1,151.1L475.8,158.7M525.8,164.5L508.6,144.0M508.6,144.0L498.2,148.3M544.3,164.5L537.9,138.5M537.9,138.5L526.7,137.8M562.9,164.5L569.4,138.5M569.4,138.5L559.8,132.7M568.5,141.7L563.8,138.8M581.4,164.5L584.7,137.9M584.7,137.9L574.4,133.3M584.3,141.2L579.1,138.9M599.9,164.5L587.8,140.6M587.8,140.6L576.7,142.5M618.5,164.5L600.5,144.6M600.5,144.6L590.3,149.3M637.0,164.5L618.4,145.2M618.4,145.2L608.3,150.3M655.5,164.5L637.6,144.6M637.6,144.6L627.4,149.3M639.8,147.1L634.7,149.4M674.0,164.5L655.4,145.2M655.4,145.2L645.4,150.3M657.7,147.6L652.7,150.1M692.5,164.5L674.3,144.9M674.3,144.9L664.1,149.8M711.1,164.5L693.5,144.3M693.5,144.3L683.2,148.8M729.6,164.5L712.7,143.7M712.7,143.7L702.3,147.8M748.1,164.5L729.2,145.5M729.2,145.5L719.2,150.8M766.6,164.5L745.0,148.7M745.0,148.7L736.0,155.5M785.2,164.5L764.3,147.6M768.3,150.8L763.6,153.9M803.7,164.5L784.1,146.2M787.8,149.6L782.9,152.4M822.2,164.5L800.3,149.1M804.4,152.0L799.9,155.4M840.8,164.5L818.0,150.3M818.0,150.3L809.5,157.6M859.3,164.5L839.7,146.2M839.7,146.2L829.9,151.8M877.8,164.5L860.9,143.7M860.9,143.7L850.5,147.8M896.3,164.5L875.5,147.6M875.5,147.6L866.1,153.9M878.1,149.7L873.4,152.9M914.8,164.5L888.1,162.6M888.1,162.6L884.0,173.1M891.5,162.9L887.4,173.3M933.4,164.5L909.9,151.5M909.9,151.5L901.8,159.3M951.9,164.5L932.3,146.2M932.3,146.2L922.5,151.8M934.7,148.5L925.0,154.1M970.4,164.5L944.4,158.0M944.4,158.0L938.6,167.6M947.7,158.8L941.8,168.4M988.9,164.5L962.4,160.8M962.4,160.8L957.6,170.9M965.7,161.2L960.9,171.4M969.0,161.7L966.6,166.8M1007.5,164.5L983.2,153.2M983.2,153.2L975.6,161.5M986.2,154.6L978.7,162.9M1026.0,164.5L1003.5,149.9M1003.5,149.9L994.9,157.1M1006.3,151.7L997.7,158.9M285.0,200.8L263.9,184.3M263.9,184.3L254.6,190.7M303.5,200.8L283.3,183.2M283.3,183.2L273.7,189.1M322.1,200.8L300.1,185.4M304.2,188.3L299.8,191.7M340.6,200.8L322.0,181.5M325.4,185.1L320.4,187.7M359.1,200.8L334.8,189.5M334.8,189.5L327.2,197.8M377.6,200.8L359.3,181.2M359.3,181.2L349.2,186.1M396.1,200.8L378.9,180.3M378.9,180.3L368.6,184.6M414.7,200.8L388.8,193.9M388.8,193.9L382.8,203.4M433.2,200.8L406.7,205.0M406.7,205.0L405.1,216.1M410.0,204.5L409.2,210.0M451.7,200.8L426.1,208.6M426.1,208.6L426.0,219.9M429.3,207.7L429.3,213.3M470.2,200.8L444.0,206.4M444.0,206.4L443.0,217.6M447.3,205.7L446.8,211.3M488.8,200.8L462.1,198.0M462.1,198.0L457.7,208.3M507.3,200.8L481.8,192.5M481.8,192.5L475.3,201.7M525.8,200.8L504.1,185.0M504.1,185.0L495.1,191.8M544.3,200.8L529.0,178.8M529.0,178.8L518.3,182.3M562.9,200.8L554.6,175.3M554.6,175.3L543.4,175.4M581.4,200.8L568.8,177.1M568.8,177.1L557.8,179.2M599.9,200.8L582.3,180.6M582.3,180.6L572.1,185.1M618.5,200.8L597.9,183.6M597.9,183.6L588.5,189.6M637.0,200.8L618.0,181.8M618.0,181.8L608.1,187.1M655.5,200.8L635.9,182.5M635.9,182.5L626.1,188.1M674.0,200.8L655.4,181.5M655.4,181.5L645.4,186.6M692.5,200.8L674.6,180.9M674.6,180.9L664.4,185.6M711.1,200.8L693.5,180.6M693.5,180.6L683.2,185.1M729.6,200.8L713.8,179.1M713.8,179.1L703.2,182.7M748.1,200.8L729.5,181.5M729.5,181.5L719.5,186.6M766.6,200.8L746.1,183.6M746.1,183.6L736.7,189.6M785.2,200.8L764.6,183.6M764.6,183.6L755.2,189.6M803.7,200.8L783.8,182.9M783.8,182.9L774.1,188.6M822.2,200.8L802.3,182.9M802.3,182.9L792.6,188.6M840.8,200.8L819.6,184.3M819.6,184.3L810.4,190.7M859.3,200.8L838.7,183.6M838.7,183.6L829.3,189.6M877.8,200.8L857.3,183.6M857.3,183.6L847.8,189.6M896.3,200.8L874.6,185.0M874.6,185.0L865.6,191.8M877.4,187.0L868.3,193.7M914.8,200.8L888.2,197.5M888.2,197.5L883.6,207.8M891.6,197.9L886.9,208.2M933.4,200.8L909.3,189.1M909.3,189.1L901.6,197.2M912.3,190.5L908.4,194.6M951.9,200.8L932.6,182.2M932.6,182.2L922.8,187.6M935.0,184.5L925.2,189.9M970.4,200.8L945.6,190.8M945.6,190.8L938.5,199.4M948.7,192.0L941.6,200.7M988.9,200.8L962.8,194.8M962.8,194.8L957.2,204.5M966.1,195.5L960.4,205.2M969.4,196.3L966.5,201.1M1007.5,200.8L982.3,191.6M982.3,191.6L975.5,200.6M985.4,192.8L978.6,201.7M1026.0,200.8L1002.1,188.6M1002.1,188.6L994.3,196.7M1005.1,190.2L997.3,198.2M285.0,237.1L260.0,227.5M264.7,229.3L261.2,233.7M303.5,237.1L278.5,227.5M283.2,229.3L279.7,233.7M322.1,237.1L298.2,224.9M302.6,227.2L298.7,231.2M340.6,237.1L316.7,224.9M321.2,227.2L317.2,231.2M359.1,237.1L333.2,230.2M338.1,231.5L335.1,236.2M377.6,237.1L353.5,225.4M353.5,225.4L345.8,233.5M396.1,237.1L372.1,225.4M372.1,225.4L364.4,233.5M414.7,237.1L391.0,224.5M391.0,224.5L383.0,232.4M433.2,237.1L407.6,229.3M407.6,229.3L401.2,238.5M451.7,237.1L426.0,229.7M426.0,229.7L419.8,239.1M470.2,237.1L444.1,231.1M444.1,231.1L438.5,240.8M488.8,237.1L462.0,235.7M462.0,235.7L458.1,246.2M507.3,237.1L481.7,229.3M481.7,229.3L475.3,238.5M525.8,237.1L503.9,221.7M503.9,221.7L495.0,228.6M544.3,237.1L525.4,218.1M525.4,218.1L515.5,223.4M562.9,237.1L544.6,217.5M544.6,217.5L534.5,222.4M581.4,237.1L564.5,216.3M564.5,216.3L554.1,220.4M599.9,237.1L581.0,218.1M581.0,218.1L571.0,223.4M618.5,237.1L597.3,220.6M597.3,220.6L588.1,227.0M637.0,237.1L615.3,221.3M615.3,221.3L606.3,228.1M655.5,237.1L635.0,219.9M635.0,219.9L625.5,225.9M674.0,237.1L653.8,219.5M653.8,219.5L644.2,225.4M692.5,237.1L672.0,219.9M672.0,219.9L662.6,225.9M711.1,237.1L693.5,216.9M693.5,216.9L683.2,221.4M729.6,237.1L712.7,216.3M712.7,216.3L702.3,220.4M748.1,237.1L729.2,218.1M729.2,218.1L719.2,223.4M766.6,237.1L746.7,219.2M746.7,219.2L737.1,224.9M785.2,237.1L765.3,219.2M765.3,219.2L755.6,224.9M803.7,237.1L784.1,218.8M784.1,218.8L774.3,224.4M822.2,237.1L801.4,220.2M801.4,220.2L792.0,226.5M840.8,237.1L818.8,221.7M818.8,221.7L809.9,228.6M859.3,237.1L837.3,221.7M837.3,221.7L828.4,228.6M877.8,237.1L856.1,221.3M856.1,221.3L847.1,228.1M896.3,237.1L872.9,224.1M872.9,224.1L864.8,231.9M875.8,225.7L867.7,233.5M914.8,237.1L888.3,233.4M888.3,233.4L883.5,243.5M891.6,233.8L886.8,244.0M894.9,234.3L892.5,239.4M933.4,237.1L907.6,229.7M907.6,229.7L901.4,239.1M910.8,230.6L904.7,240.0M951.9,237.1L930.5,221.0M930.5,221.0L921.4,227.5M970.4,237.1L948.5,221.7M948.5,221.7L939.6,228.6M951.2,223.6L946.8,227.1M988.9,237.1L963.9,227.5M963.9,227.5L957.0,236.3M967.1,228.7L960.1,237.5M1007.5,237.1L982.5,227.5M982.5,227.5L975.5,236.3M985.6,228.7L978.6,237.5M1026.0,237.1L1001.3,226.6M1001.3,226.6L994.1,235.2M1004.4,227.9L997.1,236.5M285.0,273.4L259.0,266.9M263.9,268.1L260.9,272.9M303.5,273.4L277.5,266.9M282.4,268.1L279.5,272.9M322.1,273.4L298.0,261.7M302.5,263.9L298.6,267.9M340.6,273.4L314.9,265.6M319.8,267.0L316.6,271.7M359.1,273.4L332.3,272.0M337.4,272.3L335.4,277.5M377.6,273.4L351.6,266.9M351.6,266.9L345.8,276.5M396.1,273.4L369.5,270.1M369.5,270.1L364.9,280.4M414.7,273.4L388.1,270.1M388.1,270.1L383.4,280.4M433.2,273.4L406.6,270.1M406.6,270.1L402.0,280.4M451.7,273.4L425.7,266.9M425.7,266.9L419.9,276.5M470.2,273.4L444.8,265.1M444.8,265.1L438.3,274.3M488.8,273.4L462.7,267.4M462.7,267.4L457.0,277.1M507.3,273.4L482.6,262.9M482.6,262.9L475.4,271.5M525.8,273.4L504.7,256.9M504.7,256.9L495.5,263.3M544.3,273.4L522.7,257.6M522.7,257.6L513.7,264.4M562.9,273.4L545.3,253.2M545.3,253.2L535.0,257.7M581.4,273.4L565.3,252.0M565.3,252.0L554.7,255.8M599.9,273.4L584.6,251.4M584.6,251.4L573.9,254.9M618.5,273.4L597.9,256.2M597.9,256.2L588.5,262.2M637.0,273.4L615.3,257.6M615.3,257.6L606.3,264.4M655.5,273.4L635.0,256.2M635.0,256.2L625.5,262.2M674.0,273.4L654.4,255.1M654.4,255.1L644.7,260.7M692.5,273.4L673.9,254.1M673.9,254.1L663.9,259.2M711.1,273.4L692.1,254.4M695.7,258.0L690.7,260.6M729.6,273.4L711.3,253.8M714.7,257.5L709.7,259.9M748.1,273.4L729.5,254.1M729.5,254.1L719.5,259.2M766.6,273.4L743.7,259.6M743.7,259.6L735.3,267.1M785.2,273.4L762.7,258.8M766.9,261.5L762.6,265.1M803.7,273.4L782.6,256.9M782.6,256.9L773.3,263.3M822.2,273.4L801.1,256.9M801.1,256.9L791.9,263.3M840.8,273.4L819.3,257.3M819.3,257.3L810.2,263.8M859.3,273.4L837.6,257.6M837.6,257.6L828.6,264.4M877.8,273.4L853.0,263.4M853.0,263.4L845.8,272.0M896.3,273.4L870.8,265.1M870.8,265.1L864.3,274.3M874.0,266.2L870.8,270.7M914.8,273.4L888.2,270.1M888.2,270.1L883.6,280.4M891.6,270.5L886.9,280.8M894.9,271.0L892.6,276.1M933.4,273.4L907.1,268.3M907.1,268.3L901.7,278.2M910.4,268.9L905.0,278.8M951.9,273.4L927.4,262.5M927.4,262.5L920.0,270.9M930.5,263.9L926.8,268.1M970.4,273.4L949.0,257.3M949.0,257.3L939.9,263.8M988.9,273.4L967.5,257.3M967.5,257.3L958.4,263.8M1007.5,273.4L983.4,261.7M983.4,261.7L975.7,269.8M986.4,263.1L978.7,271.3M1026.0,273.4L1001.5,262.5M1001.5,262.5L994.1,270.9M1004.6,263.9L997.2,272.3M285.0,309.7L259.0,303.2M263.9,304.4L260.9,309.2M303.5,309.7L277.5,303.2M282.4,304.4L279.5,309.2M322.1,309.7L296.7,301.0M301.5,302.6L298.1,307.1M340.6,309.7L314.3,304.6M319.2,305.5L316.5,310.5M359.1,309.7L332.3,309.7M337.3,309.7L335.7,315.1M377.6,309.7L351.1,313.4M351.1,313.4L349.3,324.5M396.1,309.7L371.0,318.9M371.0,318.9L371.5,330.1M414.7,309.7L388.6,315.7M388.6,315.7L387.7,326.9M433.2,309.7L406.4,311.1M406.4,311.1L403.7,322.0M451.7,309.7L425.2,306.0M425.2,306.0L420.4,316.1M470.2,309.7L444.2,303.2M444.2,303.2L438.4,312.8M488.8,309.7L463.0,302.3M463.0,302.3L456.8,311.7M507.3,309.7L484.1,296.3M484.1,296.3L475.8,303.9M525.8,309.7L504.1,293.9M504.1,293.9L495.1,300.7M544.3,309.7L523.2,293.2M523.2,293.2L514.0,299.6M562.9,309.7L546.4,288.6M546.4,288.6L535.9,292.5M581.4,309.7L566.8,287.2M566.8,287.2L556.0,290.3M599.9,309.7L586.1,286.7M586.1,286.7L575.2,289.4M618.5,309.7L598.2,292.1M602.0,295.4L597.2,298.4M637.0,309.7L617.4,291.4M621.0,294.8L616.2,297.6M655.5,309.7L638.6,288.9M641.8,292.8L636.6,294.8M674.0,309.7L653.5,292.5M657.3,295.7L652.6,298.7M692.5,309.7L670.9,293.9M674.9,296.9L670.4,300.3M711.1,309.7L691.2,291.8M694.9,295.1L690.1,298.0M729.6,309.7L707.6,294.3M711.8,297.2L707.3,300.6M748.1,309.7L725.9,294.7M730.1,297.5L725.7,301.0M766.6,309.7L743.9,295.5M748.2,298.2L743.9,301.8M785.2,309.7L761.7,296.7M766.1,299.1L762.1,303.0M803.7,309.7L779.0,299.2M783.7,301.2L780.0,305.5M822.2,309.7L797.9,298.4M797.9,298.4L790.4,306.7M840.8,309.7L815.1,301.9M815.1,301.9L808.8,311.1M859.3,309.7L833.9,301.0M833.9,301.0L827.3,310.0M877.8,309.7L851.1,307.4M851.1,307.4L846.8,317.8M896.3,309.7L869.9,313.9M869.9,313.9L868.2,325.0M914.8,309.7L888.1,311.1M888.1,311.1L885.3,322.0M891.4,310.9L890.0,316.4M933.4,309.7L906.6,309.2M906.6,309.2L903.0,319.9M909.9,309.3L908.2,314.6M951.9,309.7L926.6,301.0M926.6,301.0L919.9,310.0M929.7,302.1L926.4,306.6M970.4,309.7L949.0,293.6M949.0,293.6L939.9,300.1M951.7,295.6L947.1,298.9M988.9,309.7L971.0,289.8M971.0,289.8L960.8,294.5M973.3,292.3L968.2,294.6M1007.5,309.7L987.2,292.1M987.2,292.1L977.7,298.0M989.8,294.3L985.0,297.3M1026.0,309.7L1002.1,297.5M1002.1,297.5L994.3,305.6M1005.1,299.1L1001.2,303.1M285.0,346.0L258.5,341.8M263.5,342.6L261.0,347.6M303.5,346.0L277.1,341.8M282.0,342.6L279.5,347.6M322.1,346.0L295.4,343.7M300.4,344.1L298.2,349.3M340.6,346.0L313.8,346.5M318.8,346.4L317.2,351.8M359.1,346.0L332.5,349.3M337.5,348.7L336.5,354.2M377.6,346.0L351.4,351.6M351.4,351.6L350.4,362.8M396.1,346.0L371.9,357.3M371.9,357.3L373.4,368.5M414.7,346.0L390.4,357.3M390.4,357.3L391.9,368.5M433.2,346.0L408.0,355.2M408.0,355.2L408.5,366.4M451.7,346.0L425.0,348.3M425.0,348.3L422.6,359.3M470.2,346.0L443.7,342.3M443.7,342.3L438.9,352.4M488.8,346.0L463.0,338.6M463.0,338.6L456.8,348.0M507.3,346.0L484.6,331.8M484.6,331.8L476.1,339.1M525.8,346.0L503.6,331.0M503.6,331.0L494.8,338.0M544.3,346.0L522.4,330.6M522.4,330.6L513.5,337.5M562.9,346.0L545.3,325.8M545.3,325.8L535.0,330.3M581.4,346.0L565.3,324.6M568.3,328.6L563.0,330.5M599.9,346.0L584.9,323.8M587.7,327.9L582.4,329.6M618.5,346.0L601.2,325.5M604.5,329.3L599.3,331.5M637.0,346.0L619.4,325.8M622.7,329.6L617.5,331.8M655.5,346.0L642.5,322.6M644.9,327.0L639.4,328.1M674.0,346.0L657.9,324.6M660.9,328.6L655.6,330.5M692.5,346.0L669.3,332.6M673.7,335.1L669.6,338.9M711.1,346.0L687.0,334.3M691.5,336.5L687.6,340.5M729.6,346.0L706.4,332.6M710.7,335.1L706.6,338.9M748.1,346.0L722.4,338.6M727.2,340.0L724.1,344.7M766.6,346.0L740.1,342.3M745.1,343.0L742.7,348.0M785.2,346.0L758.9,340.9M763.8,341.8L761.1,346.8M803.7,346.0L777.4,340.9M782.3,341.8L779.7,346.8M822.2,346.0L796.1,340.0M801.0,341.1L798.2,345.9M840.8,346.0L814.0,344.1M819.0,344.5L817.0,349.7M859.3,346.0L833.6,338.2M833.6,338.2L827.3,347.4M877.8,346.0L851.8,352.5M851.8,352.5L851.1,363.7M896.3,346.0L872.0,357.3M872.0,357.3L873.5,368.5M875.1,355.9L875.8,361.5M914.8,346.0L889.5,354.7M889.5,354.7L889.8,366.0M892.7,353.6L892.8,359.2M933.4,346.0L907.0,350.7M907.0,350.7L905.5,361.8M910.3,350.1L909.6,355.6M951.9,346.0L926.6,337.3M926.6,337.3L919.9,346.3M929.7,338.4L926.4,342.9M970.4,346.0L949.3,329.5M949.3,329.5L940.1,335.9M951.9,331.6L947.3,334.8M988.9,346.0L972.1,325.2M972.1,325.2L961.6,329.3M1007.5,346.0L993.3,323.3M993.3,323.3L982.4,326.1M995.0,326.1L989.6,327.5M1026.0,346.0L1006.4,327.7M1006.4,327.7L996.6,333.3M285.0,382.3L258.2,382.3M263.2,382.3L261.6,387.7M303.5,382.3L276.7,382.3M281.8,382.3L280.1,387.7M322.1,382.3L295.5,386.0M300.5,385.3L299.6,390.9M340.6,382.3L315.1,390.6M319.9,389.0L319.9,394.6M359.1,382.3L333.9,391.5M338.6,389.7L338.9,395.4M377.6,382.3L352.0,390.1M356.8,388.7L356.8,394.3M396.1,382.3L372.5,394.9M372.5,394.9L374.6,405.9M414.7,382.3L390.6,394.0M390.6,394.0L392.3,405.2M433.2,382.3L408.7,393.2M408.7,393.2L410.0,404.4M451.7,382.3L425.6,388.3M425.6,388.3L424.8,399.5M470.2,382.3L443.6,385.1M443.6,385.1L441.4,396.1M488.8,382.3L462.9,375.4M462.9,375.4L456.9,384.9M507.3,382.3L482.3,372.7M482.3,372.7L475.3,381.5M525.8,382.3L501.2,371.8M501.2,371.8L493.9,380.4M544.3,382.3L520.1,371.0M520.1,371.0L512.5,379.3M562.9,382.3L542.3,365.1M542.3,365.1L532.9,371.1M581.4,382.3L563.1,362.7M566.5,366.4L561.5,368.8M599.9,382.3L583.1,361.5M586.2,365.4L581.0,367.4M618.5,382.3L600.5,362.4M603.9,366.1L598.8,368.5M748.1,382.3L722.6,390.6M727.4,389.0L727.5,394.6M766.6,382.3L745.2,398.4M749.3,395.4L751.1,400.7M785.2,382.3L768.7,403.4M771.8,399.5L775.0,404.1M803.7,382.3L782.3,398.4M786.3,395.4L788.2,400.7M822.2,382.3L798.6,394.9M803.0,392.5L804.0,398.0M840.8,382.3L815.7,391.9M820.4,390.1L820.8,395.7M859.3,382.3L832.7,379.0M837.7,379.6L835.3,384.8M877.8,382.3L851.3,386.5M851.3,386.5L849.7,397.6M896.3,382.3L872.4,394.5M872.4,394.5L874.3,405.5M875.4,392.9L876.4,398.5M914.8,382.3L891.4,395.3M891.4,395.3L893.7,406.3M894.3,393.7L896.6,404.7M933.4,382.3L908.4,391.9M908.4,391.9L909.1,403.1M911.5,390.7L911.8,396.3M951.9,382.3L925.7,376.7M925.7,376.7L920.2,386.5M929.0,377.4L926.2,382.3M970.4,382.3L949.9,365.1M949.9,365.1L940.4,371.1M988.9,382.3L971.7,361.8M971.7,361.8L961.4,366.1M1007.5,382.3L994.5,358.9M994.5,358.9L983.5,361.1M1026.0,382.3L1012.2,359.3M1012.2,359.3L1001.3,362.0M285.0,418.6L260.0,428.2M264.7,426.4L265.0,432.0M303.5,418.6L278.5,428.2M283.2,426.4L283.6,432.0M322.1,418.6L297.8,429.9M302.3,427.8L303.1,433.4M340.6,418.6L321.6,437.6M325.2,434.0L327.8,439.0M359.1,418.6L337.1,434.0M341.3,431.1L343.0,436.4M377.6,418.6L356.5,435.1M360.5,432.0L362.4,437.3M396.1,418.6L374.2,434.0M378.3,431.1L380.0,436.4M414.7,418.6L390.0,429.1M394.6,427.1L395.2,432.7M433.2,418.6L408.5,429.1M408.5,429.1L409.6,440.2M451.7,418.6L426.4,427.3M426.4,427.3L426.7,438.6M470.2,418.6L443.6,420.9M448.6,420.5L447.4,426.0M488.8,418.6L462.0,417.2M462.0,417.2L458.1,427.7M507.3,418.6L481.2,412.6M481.2,412.6L475.5,422.3M525.8,418.6L499.4,413.9M499.4,413.9L494.3,423.9M544.3,418.6L519.0,409.9M519.0,409.9L512.4,418.9M562.9,418.6L539.4,405.6M539.4,405.6L531.3,413.4M581.4,418.6L558.2,405.2M558.2,405.2L549.9,412.8M599.9,418.6L575.4,407.7M580.0,409.7L576.3,414.0M618.5,418.6L594.0,407.7M598.6,409.7L594.8,414.0M748.1,418.6L744.4,445.1M745.1,440.2L750.2,442.6M766.6,418.6L763.4,445.2M764.0,440.2L769.1,442.5M785.2,418.6L795.2,443.4M793.3,438.8L798.9,438.3M803.7,418.6L799.0,445.0M799.9,440.0L804.9,442.6M822.2,418.6L799.0,432.0M803.4,429.5L804.6,435.0M840.8,418.6L814.9,425.5M819.7,424.2L819.5,429.8M859.3,418.6L833.1,424.2M838.0,423.1L837.5,428.7M877.8,418.6L851.0,418.6M856.0,418.6L854.3,424.0M896.3,418.6L871.0,427.3M871.0,427.3L871.3,438.6M874.2,426.2L874.3,431.8M914.8,418.6L891.6,432.0M891.6,432.0L894.1,443.0M894.5,430.3L895.8,435.8M933.4,418.6L908.7,429.1M908.7,429.1L909.8,440.2M911.8,427.8L912.9,438.9M951.9,418.6L925.1,418.6M925.1,418.6L921.8,429.3M928.4,418.6L926.8,424.0M970.4,418.6L949.9,401.4M949.9,401.4L940.4,407.4M988.9,418.6L970.0,399.6M970.0,399.6L960.1,404.9M1007.5,418.6L994.5,395.2M994.5,395.2L983.5,397.4M1026.0,418.6L1012.2,395.6M1012.2,395.6L1001.3,398.3M322.1,454.9L307.8,477.6M310.5,473.4L314.2,477.6M340.6,454.9L333.2,480.7M334.6,475.8L339.3,478.9M359.1,454.9L364.2,481.2M363.3,476.3L368.8,476.9M377.6,454.9L401.7,466.6M397.2,464.4L401.1,460.4M433.2,454.9L409.8,467.9M414.2,465.5L415.3,471.0M451.7,454.9L425.6,460.9M430.5,459.8L430.1,465.4M470.2,454.9L443.5,456.8M448.5,456.4L447.2,461.9M488.8,454.9L462.0,455.8M462.0,455.8L459.0,466.7M507.3,454.9L480.5,455.4M480.5,455.4L477.3,466.1M525.8,454.9L499.0,455.8M499.0,455.8L496.1,466.7M544.3,454.9L517.7,451.6M517.7,451.6L513.1,461.9M562.9,454.9L537.0,448.0M537.0,448.0L531.0,457.5M581.4,454.9L555.8,447.1M555.8,447.1L549.4,456.3M599.9,454.9L574.9,445.3M574.9,445.3L567.9,454.1M618.5,454.9L592.8,447.1M597.6,448.5L594.5,453.2M637.0,454.9L610.3,452.6M615.3,453.0L613.1,458.2M655.5,454.9L643.3,478.8M645.6,474.3L649.6,478.2M674.0,454.9L662.7,479.2M664.8,474.6L669.0,478.4M692.5,454.9L699.9,480.7M698.6,475.8L704.2,476.0M729.6,454.9L754.9,463.6M750.2,462.0L753.5,457.5M748.1,454.9L753.7,481.1M752.7,476.2L758.2,476.7M766.6,454.9L766.6,481.7M766.6,476.7L772.0,478.3M803.7,454.9L803.7,481.7M803.7,476.7L809.1,478.3M822.2,454.9L833.1,479.4M831.1,474.8L836.7,474.1M840.8,454.9L814.3,459.1M819.2,458.3L818.4,463.9M859.3,454.9L833.0,460.0M837.9,459.1L837.3,464.6M877.8,454.9L851.6,460.5M856.5,459.4L856.0,465.0M896.3,454.9L869.6,457.2M874.6,456.8L873.4,462.3M914.8,454.9L892.6,469.9M892.6,469.9L895.8,480.6M933.4,454.9L908.9,465.8M908.9,465.8L910.2,477.0M951.9,454.9L925.1,454.9M925.1,454.9L921.8,465.6M928.4,454.9L926.8,460.3M970.4,454.9L947.9,440.3M947.9,440.3L939.3,447.5M988.9,454.9L967.5,438.8M967.5,438.8L958.4,445.3M1007.5,454.9L986.6,438.0M986.6,438.0L977.3,444.3M1026.0,454.9L1005.8,437.3M1005.8,437.3L996.2,443.2M285.0,491.2L308.0,505.0M303.7,502.4L307.9,498.7M303.5,491.2L304.5,518.0M304.3,513.0L309.7,514.4M322.1,491.2L317.9,517.7M318.6,512.7L323.7,515.2M340.6,491.2L367.4,491.2M362.3,491.2L364.0,485.8M359.1,491.2L385.9,491.2M380.9,491.2L382.6,485.8M377.6,491.2L404.2,494.9M399.2,494.2L401.6,489.2M396.1,491.2L416.7,508.4M412.8,505.2L417.6,502.2M414.7,491.2L438.3,478.6M433.9,481.0L432.9,475.5M470.2,491.2L446.0,479.9M450.5,482.0L446.7,486.1M488.8,491.2L462.0,490.3M467.0,490.4L465.2,495.7M507.3,491.2L486.2,507.7M490.1,504.6L492.1,509.9M525.8,491.2L499.3,494.9M499.3,494.9L497.5,506.0M544.3,491.2L517.6,492.6M517.6,492.6L514.8,503.5M562.9,491.2L536.8,485.2M536.8,485.2L531.1,494.9M581.4,491.2L555.5,484.3M555.5,484.3L549.5,493.8M599.9,491.2L574.4,482.9M579.2,484.5L576.0,489.1M618.5,491.2L592.2,485.6M597.2,486.7L594.4,491.6M637.0,491.2L612.5,480.3M617.1,482.3L613.4,486.6M655.5,491.2L630.5,500.8M635.2,499.0L635.5,504.6M674.0,491.2L653.8,508.8M657.6,505.5L659.8,510.6M692.5,491.2L672.6,509.1M676.4,505.8L678.7,510.9M711.1,491.2L735.7,501.7M731.1,499.7L734.8,495.4M729.6,491.2L740.5,515.7M738.5,511.1L744.0,510.4M748.1,491.2L760.7,514.9M758.3,510.4L763.9,509.4M766.6,491.2L777.1,515.9M777.1,515.9L788.3,514.8M785.2,491.2L790.3,517.5M789.3,512.6L794.9,513.2M803.7,491.2L813.7,516.0M811.9,511.4L817.5,510.9M822.2,491.2L823.6,518.0M823.4,512.9L828.8,514.3M840.8,491.2L826.2,513.7M828.9,509.5L832.5,513.8M859.3,491.2L832.6,493.5M837.6,493.1L836.4,498.6M896.3,491.2L870.4,484.3M875.3,485.6L872.3,490.3M914.8,491.2L900.3,513.7M903.0,509.5L906.6,513.8M933.4,491.2L908.5,501.2M908.5,501.2L909.4,512.4M951.9,491.2L925.2,493.5M925.2,493.5L922.8,504.5M970.4,491.2L944.9,482.9M944.9,482.9L938.4,492.1M988.9,491.2L964.7,479.9M964.7,479.9L957.1,488.2M1007.5,491.2L982.3,482.0M982.3,482.0L975.5,491.0M1026.0,491.2L1001.2,481.2M1001.2,481.2L994.0,489.8M285.0,527.5L308.9,539.7M308.9,539.7L316.7,531.6M303.5,527.5L323.8,545.1M323.8,545.1L333.3,539.2M322.1,527.5L337.0,549.7M337.0,549.7L347.8,546.5M340.6,527.5L363.1,542.1M358.8,539.4L363.2,535.8M359.1,527.5L379.6,544.7M375.8,541.5L380.5,538.5M377.6,527.5L401.1,540.5M396.7,538.1L400.7,534.2M451.7,527.5L424.9,527.5M430.0,527.5L428.3,532.9M470.2,527.5L446.2,515.8M450.7,518.0L446.8,522.0M488.8,527.5L464.7,515.8M469.2,518.0L465.3,522.0M507.3,527.5L480.6,529.4M485.6,529.0L484.3,534.5M525.8,527.5L499.0,528.4M499.0,528.4L496.1,539.3M544.3,527.5L518.3,521.0M518.3,521.0L512.5,530.6M562.9,527.5L539.0,515.3M539.0,515.3L531.1,523.4M581.4,527.5L556.9,516.6M556.9,516.6L549.5,525.0M599.9,527.5L573.2,525.2M578.2,525.6L576.1,530.8M618.5,527.5L592.1,522.4M597.1,523.3L594.4,528.3M637.0,527.5L612.0,517.9M616.6,519.7L613.2,524.1M655.5,527.5L629.5,521.0M634.4,522.2L631.4,527.0M674.0,527.5L647.7,522.4M652.7,523.3L650.0,528.3M711.1,527.5L734.0,541.3M734.0,541.3L742.4,533.8M729.6,527.5L747.9,547.1M747.9,547.1L758.0,542.2M748.1,527.5L759.9,551.6M757.7,547.1L763.2,546.2M766.6,527.5L777.1,552.2M777.1,552.2L788.3,551.1M785.2,527.5L796.1,552.0M794.0,547.4L799.6,546.7M803.7,527.5L795.9,553.1M797.3,548.3L802.0,551.5M822.2,527.5L822.2,554.3M822.2,549.3L827.6,551.0M840.8,527.5L814.9,534.4M819.7,533.1L819.5,538.7M859.3,527.5L832.7,531.2M837.7,530.5L836.8,536.1M877.8,527.5L851.8,521.0M856.7,522.2L853.7,527.0M933.4,527.5L911.2,542.5M915.3,539.7L916.9,545.1M951.9,527.5L925.9,521.0M930.8,522.2L927.8,527.0M970.4,527.5L944.0,523.3M948.9,524.1L946.4,529.1M988.9,527.5L962.8,521.5M967.7,522.6L964.9,527.4M1007.5,527.5L981.7,520.1M981.7,520.1L975.5,529.5M1026.0,527.5L1000.0,521.0M1000.0,521.0L994.2,530.6M285.0,563.8L310.5,572.1M310.5,572.1L317.0,562.9M303.5,563.8L319.7,585.2M319.7,585.2L330.2,581.4M322.1,563.8L340.3,583.4M340.3,583.4L350.5,578.5M340.6,563.8L365.9,572.5M361.2,570.9L364.5,566.4M359.1,563.8L385.0,570.7M380.1,569.4L383.1,564.7M433.2,563.8L412.4,546.9M416.3,550.1L411.6,553.2M451.7,563.8L427.4,552.5M432.0,554.6L428.2,558.7M470.2,563.8L443.9,559.1M448.8,560.0L446.2,565.0M488.8,563.8L463.6,554.6M468.3,556.4L464.9,560.8M507.3,563.8L480.5,562.4M485.6,562.7L483.6,567.9M525.8,563.8L499.7,557.8M499.7,557.8L494.0,567.5M544.3,563.8L518.5,556.9M518.5,556.9L512.5,566.4M562.9,563.8L540.1,549.6M540.1,549.6L531.6,556.9M581.4,563.8L556.2,554.6M556.2,554.6L549.4,563.6M599.9,563.8L573.4,560.1M578.4,560.8L576.0,565.8M618.5,563.8L591.9,560.1M591.9,560.1L587.1,570.2M637.0,563.8L610.6,559.1M610.6,559.1L605.4,569.1M655.5,563.8L629.4,557.8M634.3,558.9L631.4,563.7M692.5,563.8L711.5,582.8M707.9,579.2L712.9,576.6M711.1,563.8L734.0,577.6M734.0,577.6L742.4,570.1M729.6,563.8L748.2,583.1M748.2,583.1L758.3,578.0M748.1,563.8L761.1,587.2M758.7,582.8L764.2,581.7M766.6,563.8L778.8,587.7M776.5,583.2L782.1,582.3M785.2,563.8L793.0,589.4M791.5,584.6L797.2,584.7M803.7,563.8L800.9,590.5M801.4,585.5L806.6,587.7M840.8,563.8L814.9,570.7M819.7,569.4L819.5,575.0M877.8,563.8L853.3,552.9M857.9,554.9L854.2,559.2M896.3,563.8L872.2,552.1M876.8,554.3L872.9,558.3M914.8,563.8L894.0,546.9M897.9,550.1L893.3,553.2M933.4,563.8L908.7,574.3M908.7,574.3L909.8,585.4M951.9,563.8L925.2,566.6M925.2,566.6L923.0,577.6M970.4,563.8L943.7,561.5M948.7,561.9L946.6,567.1M988.9,563.8L962.4,560.1M967.4,560.8L965.0,565.8M1007.5,563.8L981.6,556.9M981.6,556.9L975.6,566.4M1026.0,563.8L1003.0,550.0M1003.0,550.0L994.6,557.5M285.0,600.1L311.7,602.9M306.7,602.4L308.9,597.2M303.5,600.1L327.2,612.7M322.8,610.3L326.7,606.4M340.6,600.1L351.0,624.8M349.1,620.1L354.7,619.6M359.1,600.1L369.6,624.8M367.6,620.1L373.2,619.6M377.6,600.1L360.4,620.6M363.6,616.8L366.7,621.5M396.1,600.1L375.9,617.7M379.7,614.4L382.0,619.5M433.2,600.1L410.5,614.3M414.7,611.6L416.2,617.1M451.7,600.1L425.4,595.0M430.4,595.9L427.7,600.9M470.2,600.1L443.6,602.4M448.6,602.0L447.4,607.5M488.8,600.1L463.3,591.8M463.3,591.8L456.8,601.0M507.3,600.1L481.5,592.7M481.5,592.7L475.4,602.1M525.8,600.1L500.3,591.8M500.3,591.8L493.8,601.0M544.3,600.1L517.7,602.9M517.7,602.9L515.5,613.9M562.9,600.1L536.1,600.1M541.1,600.1L539.4,605.5M581.4,600.1L555.6,592.7M560.5,594.1L557.4,598.8M599.9,600.1L573.8,594.1M573.8,594.1L568.1,603.8M618.5,600.1L592.0,595.9M596.9,596.7L594.5,601.7M637.0,600.1L610.2,600.1M615.2,600.1L613.5,605.5M655.5,600.1L630.7,590.1M635.3,591.9L631.7,596.3M692.5,600.1L714.5,615.5M714.5,615.5L723.4,608.6M711.1,600.1L735.2,611.8M735.2,611.8L742.9,603.7M729.6,600.1L747.5,620.0M744.2,616.3L749.3,613.9M748.1,600.1L757.3,625.3M755.6,620.6L761.2,620.3M766.6,600.1L780.9,622.8M778.2,618.6L783.6,617.1M785.2,600.1L786.1,626.9M785.9,621.9L791.4,623.3M822.2,600.1L795.6,596.8M800.6,597.4L798.3,602.6M840.8,600.1L836.1,626.5M837.0,621.5L842.0,624.1M877.8,600.1L852.2,592.3M857.0,593.7L853.8,598.4M896.3,600.1L870.8,591.8M875.6,593.4L872.4,598.0M914.8,600.1L889.0,593.2M893.8,594.5L890.8,599.2M933.4,600.1L906.6,600.1M911.6,600.1L909.9,605.5M951.9,600.1L927.6,611.4M927.6,611.4L929.1,622.6M970.4,600.1L944.4,606.6M944.4,606.6L943.8,617.8M988.9,600.1L962.1,600.1M962.1,600.1L958.8,610.8M1007.5,600.1L981.1,604.8M981.1,604.8L979.6,615.9M1026.0,600.1L1000.0,593.6M1004.9,594.8L1001.9,599.6" fill="none" stroke="#000" stroke-width="1.8" stroke-linecap="butt" stroke-linejoin="miter"/>
<g fill="none" stroke="#000" stroke-width="1.8"><circle cx="766.6" cy="128.2" r="4.0"/><circle cx="785.2" cy="128.2" r="4.0"/><circle cx="803.7" cy="128.2" r="4.0"/><circle cx="822.2" cy="128.2" r="4.0"/><circle cx="637.0" cy="382.3" r="4.0"/><circle cx="655.5" cy="382.3" r="4.0"/><circle cx="674.0" cy="382.3" r="4.0"/><circle cx="692.5" cy="382.3" r="4.0"/><circle cx="711.1" cy="382.3" r="4.0"/><circle cx="729.6" cy="382.3" r="4.0"/><circle cx="637.0" cy="418.6" r="4.0"/><circle cx="655.5" cy="418.6" r="4.0"/><circle cx="674.0" cy="418.6" r="4.0"/><circle cx="692.5" cy="418.6" r="4.0"/><circle cx="711.1" cy="418.6" r="4.0"/><circle cx="729.6" cy="418.6" r="4.0"/><circle cx="285.0" cy="454.9" r="4.0"/><circle cx="303.5" cy="454.9" r="4.0"/><circle cx="396.1" cy="454.9" r="4.0"/><circle cx="414.7" cy="454.9" r="4.0"/><circle cx="711.1" cy="454.9" r="4.0"/><circle cx="785.2" cy="454.9" r="4.0"/><circle cx="433.2" cy="491.2" r="4.0"/><circle cx="451.7" cy="491.2" r="4.0"/><circle cx="877.8" cy="491.2" r="4.0"/><circle cx="396.1" cy="527.5" r="4.0"/><circle cx="414.7" cy="527.5" r="4.0"/><circle cx="433.2" cy="527.5" r="4.0"/><circle cx="692.5" cy="527.5" r="4.0"/><circle cx="896.3" cy="527.5" r="4.0"/><circle cx="914.8" cy="527.5" r="4.0"/><circle cx="377.6" cy="563.8" r="4.0"/><circle cx="396.1" cy="563.8" r="4.0"/><circle cx="414.7" cy="563.8" r="4.0"/><circle cx="674.0" cy="563.8" r="4.0"/><circle cx="822.2" cy="563.8" r="4.0"/><circle cx="859.3" cy="563.8" r="4.0"/><circle cx="322.1" cy="600.1" r="4.0"/><circle cx="414.7" cy="600.1" r="4.0"/><circle cx="674.0" cy="600.1" r="4.0"/><circle cx="803.7" cy="600.1" r="4.0"/><circle cx="859.3" cy="600.1" r="4.0"/></g>
</g>
<rect x="285.6" y="103.6" width="741.0" height="512.7" fill="none" stroke="#000" stroke-width="3.0"/>
<defs><linearGradient id="dg" x1="0" x2="1" y1="0" y2="0"><stop offset="0" stop-color="#80abe8"/><stop offset="0.11" stop-color="#86afe8"/><stop offset="0.21" stop-color="#a9c6e6"/><stop offset="0.29" stop-color="#d2e2e4"/><stop offset="0.37" stop-color="#f3f7e2"/><stop offset="0.43" stop-color="#fdfee2"/><stop offset="0.57" stop-color="#fdfee2"/><stop offset="0.63" stop-color="#f3f7e2"/><stop offset="0.71" stop-color="#d2e2e4"/><stop offset="0.79" stop-color="#a9c6e6"/><stop offset="0.89" stop-color="#86afe8"/><stop offset="1" stop-color="#80abe8"/></linearGradient><clipPath id="cw"><rect x="284.6" y="618.8" width="741.4999999999999" height="27.40000000000009"/></clipPath></defs>
<g clip-path="url(#cw)">
<rect x="215.0" y="618.8" width="148.5" height="27.40000000000009" fill="url(#dg)"/>
<rect x="363.2" y="618.8" width="148.5" height="27.40000000000009" fill="url(#dg)"/>
<rect x="511.4" y="618.8" width="148.5" height="27.40000000000009" fill="url(#dg)"/>
<rect x="659.6" y="618.8" width="148.5" height="27.40000000000009" fill="url(#dg)"/>
<rect x="807.8" y="618.8" width="148.5" height="27.40000000000009" fill="url(#dg)"/>
<rect x="956.0" y="618.8" width="148.5" height="27.40000000000009" fill="url(#dg)"/>
<line x1="363.2" y1="618.8" x2="363.2" y2="646.2" stroke="#000" stroke-width="2"/>
<line x1="511.4" y1="618.8" x2="511.4" y2="646.2" stroke="#000" stroke-width="2"/>
<line x1="659.6" y1="618.8" x2="659.6" y2="646.2" stroke="#000" stroke-width="2"/>
<line x1="807.8" y1="618.8" x2="807.8" y2="646.2" stroke="#000" stroke-width="2"/>
<line x1="956.0" y1="618.8" x2="956.0" y2="646.2" stroke="#000" stroke-width="2"/>
</g>
<text x="288.8" y="638.2" font-size="15.4" fill="#555555" text-anchor="middle" >Sunday</text>
<text x="434.6" y="638.2" font-size="15.4" fill="#555555" text-anchor="middle" >Monday</text>
<text x="580.6" y="638.2" font-size="15.4" fill="#555555" text-anchor="middle" >Tuesday</text>
<text x="726.2" y="638.2" font-size="15.4" fill="#555555" text-anchor="middle" >Wednesday</text>
<text x="871.5" y="638.2" font-size="15.4" fill="#555555" text-anchor="middle" >Thursday</text>
<text x="1019.3" y="638.2" font-size="15.4" fill="#555555" text-anchor="middle" >Friday</text>
<clipPath id="cwp"><rect x="285.6" y="650.5" width="740.9999999999999" height="124.79999999999995"/></clipPath>
<line x1="359.7" y1="650.5" x2="359.7" y2="775.3" stroke="#b0b0b0" stroke-width="1.05" stroke-dasharray="4.9,2.1" fill="none"/>
<line x1="433.8" y1="650.5" x2="433.8" y2="775.3" stroke="#b0b0b0" stroke-width="1.05" stroke-dasharray="4.9,2.1" fill="none"/>
<line x1="507.9" y1="650.5" x2="507.9" y2="775.3" stroke="#b0b0b0" stroke-width="1.05" stroke-dasharray="4.9,2.1" fill="none"/>
<line x1="582.0" y1="650.5" x2="582.0" y2="775.3" stroke="#b0b0b0" stroke-width="1.05" stroke-dasharray="4.9,2.1" fill="none"/>
<line x1="656.1" y1="650.5" x2="656.1" y2="775.3" stroke="#b0b0b0" stroke-width="1.05" stroke-dasharray="4.9,2.1" fill="none"/>
<line x1="730.2" y1="650.5" x2="730.2" y2="775.3" stroke="#b0b0b0" stroke-width="1.05" stroke-dasharray="4.9,2.1" fill="none"/>
<line x1="804.3" y1="650.5" x2="804.3" y2="775.3" stroke="#b0b0b0" stroke-width="1.05" stroke-dasharray="4.9,2.1" fill="none"/>
<line x1="878.4" y1="650.5" x2="878.4" y2="775.3" stroke="#b0b0b0" stroke-width="1.05" stroke-dasharray="4.9,2.1" fill="none"/>
<line x1="952.5" y1="650.5" x2="952.5" y2="775.3" stroke="#b0b0b0" stroke-width="1.05" stroke-dasharray="4.9,2.1" fill="none"/>
<line x1="285.6" y1="671.3" x2="1026.6" y2="671.3" stroke="#b0b0b0" stroke-width="1.05" stroke-dasharray="4.9,2.1" fill="none"/>
<line x1="285.6" y1="692.1" x2="1026.6" y2="692.1" stroke="#b0b0b0" stroke-width="1.05" stroke-dasharray="4.9,2.1" fill="none"/>
<line x1="285.6" y1="712.9" x2="1026.6" y2="712.9" stroke="#b0b0b0" stroke-width="1.05" stroke-dasharray="4.9,2.1" fill="none"/>
<line x1="285.6" y1="733.7" x2="1026.6" y2="733.7" stroke="#b0b0b0" stroke-width="1.05" stroke-dasharray="4.9,2.1" fill="none"/>
<line x1="285.6" y1="754.5" x2="1026.6" y2="754.5" stroke="#b0b0b0" stroke-width="1.05" stroke-dasharray="4.9,2.1" fill="none"/>
<g clip-path="url(#cwp)">
<path d="M303.5,738.3L283.5,742.6M287.2,741.8L286.8,746.0M340.6,738.3L334.2,718.8M335.4,722.5L331.1,722.5M359.1,738.3L357.7,717.8M357.9,721.7L353.8,720.7M377.6,738.3L380.8,718.1M380.2,721.8L376.4,719.9M396.1,738.3L399.7,718.1M399.0,721.9L395.2,719.9M433.2,738.3L445.8,722.1M443.5,725.2L441.0,721.6M451.7,738.3L472.0,735.4M468.2,736.0L468.9,731.7M470.2,738.3L489.9,732.3M489.9,732.3L489.9,723.7M488.8,738.3L509.2,740.1M505.4,739.8L507.0,735.8M507.3,738.3L527.8,737.9M524.0,738.0L525.2,733.9M525.8,738.3L546.2,740.8M546.2,740.8L549.7,733.0M544.3,738.3L562.1,728.0M562.1,728.0L560.2,719.7M562.9,738.3L582.8,733.3M579.0,734.3L579.3,730.0M581.4,738.3L601.9,739.0M598.0,738.9L599.5,734.8M599.9,738.3L620.3,736.5M616.5,736.8L617.4,732.7M618.5,738.3L634.8,726.0M631.8,728.3L630.3,724.2M637.0,738.3L644.0,719.0M642.7,722.6L639.3,720.0M692.5,738.3L673.2,731.6M673.2,731.6L668.1,738.5M711.1,738.3L690.9,734.7M690.9,734.7L686.9,742.4M729.6,738.3L711.5,728.7M711.5,728.7L705.4,734.7M748.1,738.3L737.3,720.9M737.3,720.9L728.9,723.1M766.6,738.3L751.9,724.1M754.7,726.7L750.9,728.8M785.2,738.3L782.7,718.0M783.1,721.8L778.9,721.0M803.7,738.3L797.4,718.8M798.6,722.5L794.3,722.5M840.8,738.3L842.2,717.8M841.9,721.7L837.9,720.1M877.8,738.3L898.0,741.5M894.3,740.9L896.2,737.1M896.3,738.3L916.8,739.4M913.0,739.2L914.5,735.1M914.8,738.3L934.9,742.6M931.1,741.8L933.2,738.0M933.4,738.3L953.0,732.3M949.3,733.4L949.3,729.1M951.9,738.3L965.1,722.6M965.1,722.6L960.4,715.4M970.4,738.3L983.9,722.8M983.9,722.8L979.4,715.5M988.9,738.3L998.6,720.2M996.8,723.6L993.8,720.5M1007.5,738.3L1020.1,722.1M1020.1,722.1L1015.2,715.1M1026.0,738.3L1040.5,723.8M1037.8,726.5L1035.8,722.7" fill="none" stroke="#aaaaaa" stroke-width="1.8"/>
<g fill="none" stroke="#aaaaaa" stroke-width="1.8"><circle cx="285.0" cy="738.3" r="3.5"/><circle cx="322.1" cy="738.3" r="3.5"/><circle cx="414.7" cy="738.3" r="3.5"/><circle cx="655.5" cy="738.3" r="3.5"/><circle cx="674.0" cy="738.3" r="3.5"/><circle cx="822.2" cy="738.3" r="3.5"/><circle cx="859.3" cy="738.3" r="3.5"/></g>
<polyline fill="none" stroke="#008000" stroke-width="1.35" stroke-linejoin="round" points="285.6,755.2 304.1,735.8 322.7,769.8 341.2,729.5 359.7,735.8 378.2,726.1 396.8,748.3 415.3,758.7 433.8,739.2 452.3,735.1 470.9,733.0 489.4,723.3 507.9,716.7 526.4,719.8 545.0,722.6 563.5,731.6 582.0,728.8 600.5,727.5 619.0,744.8 637.6,742.7 656.1,758.7 674.6,769.1 693.1,691.4 711.7,699.7 730.2,706.7 748.7,744.8 767.2,723.3 785.8,754.2 804.3,729.2 822.8,759.4 841.4,738.6 859.9,758.3 878.4,734.4 896.9,733.0 915.4,742.7 934.0,742.0 952.5,715.7 971.0,716.4 989.5,729.2 1008.1,714.3 1026.6,738.6"/>
<path d="M303.5,685.8L324.0,686.5M320.2,686.4L321.6,682.3M340.6,685.8L342.0,706.3M341.7,702.4L345.9,703.4M359.1,685.8L355.5,706.0M356.2,702.2L360.0,704.2M377.6,685.8L369.6,704.7M371.1,701.1L374.4,703.9M396.1,685.8L387.8,704.5M389.4,701.0L392.6,703.9M433.2,685.8L417.0,698.4M420.1,696.1L421.6,700.1M451.7,685.8L431.3,683.7M435.2,684.1L433.5,688.0M470.2,685.8L449.8,686.9M449.8,686.9L447.6,695.2M488.8,685.8L469.4,679.1M473.0,680.4L470.5,683.8M507.3,685.8L487.3,681.2M491.1,682.1L488.9,685.8M525.8,685.8L506.7,678.5M506.7,678.5L501.4,685.2M544.3,685.8L524.6,691.5M524.6,691.5L524.4,700.0M562.9,685.8L542.4,685.8M546.2,685.8L544.9,689.9M581.4,685.8L561.7,680.1M565.4,681.2L563.0,684.8M599.9,685.8L579.7,682.6M583.5,683.2L581.6,687.0M618.5,685.8L599.6,693.8M603.1,692.3L603.5,696.6M637.0,685.8L625.5,702.8M627.7,699.6L630.3,703.0M692.5,685.8L709.7,697.0M709.7,697.0L716.4,691.5M711.1,685.8L729.8,694.1M729.8,694.1L735.5,687.7M729.6,685.8L744.8,699.5M744.8,699.5L752.2,695.1M748.1,685.8L754.5,705.3M754.5,705.3L763.1,705.2M766.6,685.8L777.5,703.2M775.5,699.9L779.6,698.8M785.2,685.8L782.7,706.1M783.1,702.3L787.1,704.1M803.7,685.8L805.1,706.3M804.9,702.4L809.0,703.4M840.8,685.8L834.4,705.3M835.6,701.6L839.1,704.1M877.8,685.8L858.9,677.8M862.5,679.3L859.7,682.6M896.3,685.8L876.7,679.8M880.4,680.9L878.0,684.5M914.8,685.8L896.4,676.8M899.9,678.5L896.9,681.6M933.4,685.8L912.9,686.9M916.7,686.7L915.7,690.8M951.9,685.8L935.3,697.8M935.3,697.8L938.1,706.0M970.4,685.8L953.6,697.6M953.6,697.6L956.2,705.7M988.9,685.8L975.2,701.0M977.8,698.2L980.0,701.9M1007.5,685.8L991.3,698.4M991.3,698.4L994.3,706.5M1026.0,685.8L1008.4,696.4M1011.7,694.4L1012.7,698.6" fill="none" stroke="#000000" stroke-width="1.8"/>
<g fill="none" stroke="#000000" stroke-width="1.8"><circle cx="285.0" cy="685.8" r="3.5"/><circle cx="322.1" cy="685.8" r="3.5"/><circle cx="414.7" cy="685.8" r="3.5"/><circle cx="655.5" cy="685.8" r="3.5"/><circle cx="674.0" cy="685.8" r="3.5"/><circle cx="822.2" cy="685.8" r="3.5"/><circle cx="859.3" cy="685.8" r="3.5"/></g>
</g>
<rect x="285.6" y="650.5" width="741.0" height="124.8" fill="none" stroke="#000" stroke-width="3.0"/>
<line x1="359.7" y1="787.5" x2="359.7" y2="866.2" stroke="#b0b0b0" stroke-width="1.05" stroke-dasharray="4.9,2.1" fill="none"/>
<line x1="433.8" y1="787.5" x2="433.8" y2="866.2" stroke="#b0b0b0" stroke-width="1.05" stroke-dasharray="4.9,2.1" fill="none"/>
<line x1="507.9" y1="787.5" x2="507.9" y2="866.2" stroke="#b0b0b0" stroke-width="1.05" stroke-dasharray="4.9,2.1" fill="none"/>
<line x1="582.0" y1="787.5" x2="582.0" y2="866.2" stroke="#b0b0b0" stroke-width="1.05" stroke-dasharray="4.9,2.1" fill="none"/>
<line x1="656.1" y1="787.5" x2="656.1" y2="866.2" stroke="#b0b0b0" stroke-width="1.05" stroke-dasharray="4.9,2.1" fill="none"/>
<line x1="730.2" y1="787.5" x2="730.2" y2="866.2" stroke="#b0b0b0" stroke-width="1.05" stroke-dasharray="4.9,2.1" fill="none"/>
<line x1="804.3" y1="787.5" x2="804.3" y2="866.2" stroke="#b0b0b0" stroke-width="1.05" stroke-dasharray="4.9,2.1" fill="none"/>
<line x1="878.4" y1="787.5" x2="878.4" y2="866.2" stroke="#b0b0b0" stroke-width="1.05" stroke-dasharray="4.9,2.1" fill="none"/>
<line x1="952.5" y1="787.5" x2="952.5" y2="866.2" stroke="#b0b0b0" stroke-width="1.05" stroke-dasharray="4.9,2.1" fill="none"/>
<rect x="470.5" y="864.2" width="18.5" height="2.0" fill="#800080"/>
<rect x="637.2" y="845" width="17.6" height="21.2" fill="#800080"/>
<rect x="655.7" y="852" width="18.6" height="14.2" fill="#800080"/>
<rect x="674.2" y="805" width="18.6" height="61.2" fill="#800080"/>
<rect x="692.8" y="852" width="18.6" height="14.2" fill="#800080"/>
<rect x="711.3" y="860" width="18.6" height="6.2" fill="#800080"/>
<line x1="285.6" y1="803.2" x2="1026.6" y2="803.2" stroke="#b0b0b0" stroke-width="1.05" stroke-dasharray="4.9,2.1" fill="none"/>
<line x1="285.6" y1="819.0" x2="1026.6" y2="819.0" stroke="#b0b0b0" stroke-width="1.05" stroke-dasharray="4.9,2.1" fill="none"/>
<line x1="285.6" y1="834.7" x2="1026.6" y2="834.7" stroke="#b0b0b0" stroke-width="1.05" stroke-dasharray="4.9,2.1" fill="none"/>
<line x1="285.6" y1="850.5" x2="1026.6" y2="850.5" stroke="#b0b0b0" stroke-width="1.05" stroke-dasharray="4.9,2.1" fill="none"/>
<polyline fill="none" stroke="#00c000" stroke-width="1.35" stroke-linejoin="round" points="285.6,804.0 304.1,802.7 322.7,805.7 341.2,808.7 359.7,813.3 378.2,810.7 396.8,818.7 415.3,819.7 433.8,823.3 452.3,827.0 470.9,830.7 489.4,834.3 507.9,837.0 526.4,837.3 545.0,837.0 563.5,836.0 582.0,833.3 600.5,830.7 619.0,829.3 637.6,825.5 656.1,823.8 674.6,821.7 693.1,820.0 711.7,817.5 730.2,815.3 748.7,816.0 767.2,817.7 785.8,816.0 804.3,816.7 822.8,818.3 841.4,819.0 859.9,817.3 878.4,817.7 896.9,820.0 915.4,821.0 934.0,821.7 952.5,821.7 971.0,825.0 989.5,825.7 1008.1,821.3 1026.6,819.3"/>
<rect x="285.6" y="787.5" width="741.0" height="78.7" fill="none" stroke="#000" stroke-width="3.0"/>
<line x1="272.2" y1="787.5" x2="285.6" y2="787.5" stroke="#000" stroke-width="2.2"/>
<line x1="272.2" y1="803.2" x2="285.6" y2="803.2" stroke="#000" stroke-width="2.2"/>
<line x1="272.2" y1="819.0" x2="285.6" y2="819.0" stroke="#000" stroke-width="2.2"/>
<line x1="272.2" y1="834.7" x2="285.6" y2="834.7" stroke="#000" stroke-width="2.2"/>
<line x1="272.2" y1="850.5" x2="285.6" y2="850.5" stroke="#000" stroke-width="2.2"/>
<line x1="272.2" y1="866.2" x2="285.6" y2="866.2" stroke="#000" stroke-width="2.2"/>
<line x1="359.7" y1="878.5" x2="359.7" y2="992.4" stroke="#b0b0b0" stroke-width="1.05" stroke-dasharray="4.9,2.1" fill="none"/>
<line x1="433.8" y1="878.5" x2="433.8" y2="992.4" stroke="#b0b0b0" stroke-width="1.05" stroke-dasharray="4.9,2.1" fill="none"/>
<line x1="507.9" y1="878.5" x2="507.9" y2="992.4" stroke="#b0b0b0" stroke-width="1.05" stroke-dasharray="4.9,2.1" fill="none"/>
<line x1="582.0" y1="878.5" x2="582.0" y2="992.4" stroke="#b0b0b0" stroke-width="1.05" stroke-dasharray="4.9,2.1" fill="none"/>
<line x1="656.1" y1="878.5" x2="656.1" y2="992.4" stroke="#b0b0b0" stroke-width="1.05" stroke-dasharray="4.9,2.1" fill="none"/>
<line x1="730.2" y1="878.5" x2="730.2" y2="992.4" stroke="#b0b0b0" stroke-width="1.05" stroke-dasharray="4.9,2.1" fill="none"/>
<line x1="804.3" y1="878.5" x2="804.3" y2="992.4" stroke="#b0b0b0" stroke-width="1.05" stroke-dasharray="4.9,2.1" fill="none"/>
<line x1="878.4" y1="878.5" x2="878.4" y2="992.4" stroke="#b0b0b0" stroke-width="1.05" stroke-dasharray="4.9,2.1" fill="none"/>
<line x1="952.5" y1="878.5" x2="952.5" y2="992.4" stroke="#b0b0b0" stroke-width="1.05" stroke-dasharray="4.9,2.1" fill="none"/>
<line x1="285.6" y1="901.3" x2="1026.6" y2="901.3" stroke="#b0b0b0" stroke-width="1.05" stroke-dasharray="4.9,2.1" fill="none"/>
<line x1="285.6" y1="924.1" x2="1026.6" y2="924.1" stroke="#b0b0b0" stroke-width="1.05" stroke-dasharray="4.9,2.1" fill="none"/>
<line x1="285.6" y1="946.8" x2="1026.6" y2="946.8" stroke="#b0b0b0" stroke-width="1.05" stroke-dasharray="4.9,2.1" fill="none"/>
<line x1="285.6" y1="969.6" x2="1026.6" y2="969.6" stroke="#b0b0b0" stroke-width="1.05" stroke-dasharray="4.9,2.1" fill="none"/>
<polyline fill="none" stroke="#ff0000" stroke-width="1.35" stroke-linejoin="round" points="285.6,914.3 304.1,919.3 322.7,917.0 341.2,917.3 359.7,915.0 378.2,916.7 396.8,915.7 415.3,914.3 433.8,915.7 452.3,916.7 470.9,916.3 489.4,917.0 507.9,917.7 526.4,917.3 545.0,920.0 563.5,920.3 582.0,920.0 600.5,919.0 619.0,918.0 637.6,916.7 656.1,916.0 674.6,916.0 693.1,918.3 711.7,916.3 730.2,912.0 748.7,911.7 767.2,910.3 785.8,910.7 804.3,917.3 822.8,916.7 841.4,917.3 859.9,917.0 878.4,916.7 896.9,917.0 915.4,931.7 934.0,934.3 952.5,936.3 971.0,938.3 989.5,935.7 1008.1,935.7 1026.6,927.3"/>
<polyline fill="none" stroke="#008000" stroke-width="1.35" stroke-linejoin="round" points="285.6,948.3 304.1,946.0 322.7,944.7 341.2,946.0 359.7,947.0 378.2,941.3 396.8,949.0 415.3,947.7 433.8,950.7 452.3,948.0 470.9,950.3 489.4,942.7 507.9,941.0 526.4,935.0 545.0,936.3 563.5,935.7 582.0,944.3 600.5,945.3 619.0,941.7 637.6,931.3 656.1,929.2 674.6,928.0 693.1,934.0 711.7,929.7 730.2,936.0 748.7,937.0 767.2,949.0 785.8,949.3 804.3,950.3 822.8,928.7 841.4,941.0 859.9,941.3 878.4,939.0 896.9,933.0 915.4,932.3 934.0,935.3 952.5,936.7 971.0,939.0 989.5,936.3 1008.1,936.3 1026.6,948.0"/>
<rect x="285.6" y="878.5" width="741.0" height="113.9" fill="none" stroke="#000" stroke-width="3.0"/>
<line x1="359.7" y1="1003.2" x2="359.7" y2="1106.2" stroke="#b0b0b0" stroke-width="1.05" stroke-dasharray="4.9,2.1" fill="none"/>
<line x1="433.8" y1="1003.2" x2="433.8" y2="1106.2" stroke="#b0b0b0" stroke-width="1.05" stroke-dasharray="4.9,2.1" fill="none"/>
<line x1="507.9" y1="1003.2" x2="507.9" y2="1106.2" stroke="#b0b0b0" stroke-width="1.05" stroke-dasharray="4.9,2.1" fill="none"/>
<line x1="582.0" y1="1003.2" x2="582.0" y2="1106.2" stroke="#b0b0b0" stroke-width="1.05" stroke-dasharray="4.9,2.1" fill="none"/>
<line x1="656.1" y1="1003.2" x2="656.1" y2="1106.2" stroke="#b0b0b0" stroke-width="1.05" stroke-dasharray="4.9,2.1" fill="none"/>
<line x1="730.2" y1="1003.2" x2="730.2" y2="1106.2" stroke="#b0b0b0" stroke-width="1.05" stroke-dasharray="4.9,2.1" fill="none"/>
<line x1="804.3" y1="1003.2" x2="804.3" y2="1106.2" stroke="#b0b0b0" stroke-width="1.05" stroke-dasharray="4.9,2.1" fill="none"/>
<line x1="878.4" y1="1003.2" x2="878.4" y2="1106.2" stroke="#b0b0b0" stroke-width="1.05" stroke-dasharray="4.9,2.1" fill="none"/>
<line x1="952.5" y1="1003.2" x2="952.5" y2="1106.2" stroke="#b0b0b0" stroke-width="1.05" stroke-dasharray="4.9,2.1" fill="none"/>
<line x1="285.6" y1="1029.0" x2="1026.6" y2="1029.0" stroke="#b0b0b0" stroke-width="1.05" stroke-dasharray="4.9,2.1" fill="none"/>
<line x1="285.6" y1="1054.7" x2="1026.6" y2="1054.7" stroke="#b0b0b0" stroke-width="1.05" stroke-dasharray="4.9,2.1" fill="none"/>
<line x1="285.6" y1="1080.5" x2="1026.6" y2="1080.5" stroke="#b0b0b0" stroke-width="1.05" stroke-dasharray="4.9,2.1" fill="none"/>
<polyline fill="none" stroke="#0000ff" stroke-width="1.35" stroke-linejoin="round" points="285.6,1040.0 304.1,1060.7 322.7,1038.7 341.2,1062.3 359.7,1059.7 378.2,1063.3 396.8,1055.0 415.3,1038.3 433.8,1058.7 452.3,1060.3 470.9,1061.0 489.4,1064.0 507.9,1066.0 526.4,1065.3 545.0,1065.0 563.5,1062.7 582.0,1063.3 600.5,1063.3 619.0,1057.0 637.6,1057.7 656.1,1038.7 674.6,1038.7 693.1,1071.7 711.7,1069.3 730.2,1067.0 748.7,1055.7 767.2,1062.7 785.8,1037.7 804.3,1062.3 822.8,1038.7 841.4,1059.3 859.9,1038.7 878.4,1060.3 896.9,1061.0 915.4,1061.0 934.0,1061.7 952.5,1071.0 971.0,1071.3 989.5,1066.7 1008.1,1071.0 1026.6,1061.7"/>
<rect x="285.6" y="1003.2" width="741.0" height="103.0" fill="none" stroke="#000" stroke-width="3.0"/>
<line x1="272.2" y1="1003.2" x2="285.6" y2="1003.2" stroke="#000" stroke-width="2.2"/>
<line x1="272.2" y1="1029.0" x2="285.6" y2="1029.0" stroke="#000" stroke-width="2.2"/>
<line x1="272.2" y1="1054.7" x2="285.6" y2="1054.7" stroke="#000" stroke-width="2.2"/>
<line x1="272.2" y1="1080.5" x2="285.6" y2="1080.5" stroke="#000" stroke-width="2.2"/>
<line x1="272.2" y1="1106.2" x2="285.6" y2="1106.2" stroke="#000" stroke-width="2.2"/>
<text x="4.2" y="22.4" font-size="22.45" fill="#000" text-anchor="start" >USAP_Cape_Adare: lat/lon = (-71.2833, 170.2330)</text>
<text x="4.2" y="46.6" font-size="18.45" fill="#000" text-anchor="start" >Nearest cell 733522: lat/lon = (-71.2872, 170.2517)</text>
<text x="952.5" y="22.5" font-size="22.45" fill="#000" text-anchor="middle" >AMPS MPAS Forecast Cycle:</text>
<text x="942.0" y="48.5" font-size="22.45" fill="#000" text-anchor="middle" >2026-01-11 / 00 UTC</text>
<text x="216.0" y="145.0" font-size="26.4" fill="#000" text-anchor="end" >MPAS cell size:</text>
<text x="216" y="181" font-size="26.4" text-anchor="end">~(2.8 km)<tspan font-size="18.5" dy="-10">2</tspan></text>
<text x="18.0" y="291.5" font-size="19.8" fill="#ff0000" text-anchor="start" >Temperature (°C)</text>
<text x="18.0" y="327.5" font-size="19.8" fill="#32dc32" text-anchor="start" >RH (%) wrt liq. wat</text>
<text x="18.0" y="363.5" font-size="19.8" fill="#0000ff" text-anchor="start" >Cloud/Precip outline</text>
<text x="18.0" y="400.5" font-size="19.8" fill="#000" text-anchor="start" >Wind Barbs (kts) (true)</text>
<rect x="159" y="469.2" width="52" height="31" fill="#d0ffd0"/>
<rect x="159" y="500" width="52" height="30" fill="#a0eca0"/>
<rect x="159" y="529.6" width="52" height="32.4" fill="#32dc32"/>
<text x="40.0" y="491.5" font-size="19.8" fill="#000" text-anchor="start" >RH &gt; 70%</text>
<text x="40.0" y="522.5" font-size="19.8" fill="#000" text-anchor="start" >RH &gt; 80%</text>
<text x="40.0" y="553.5" font-size="19.8" fill="#000" text-anchor="start" >RH &gt; 90%</text>
<text x="90.0" y="638.0" font-size="18.5" fill="#000" text-anchor="start" >Local Weekday</text>
<text x="40.0" y="668.0" font-size="14.6" fill="#000" text-anchor="start" >Wind at 10m AGL</text>
<text x="66.0" y="693.5" font-size="19.8" fill="#008000" text-anchor="start" >Wind Spd (kts)</text>
<text x="66.0" y="725.5" font-size="19.8" fill="#000" text-anchor="start" >Wind Barbs (true)</text>
<text x="66.0" y="753.5" font-size="19.8" fill="#aaaaaa" text-anchor="start" >Wind Barbs (grid)</text>
<text x="66.0" y="793.5" font-size="19.8" fill="#800080" text-anchor="start" >Precip (mm)</text>
<text x="66.0" y="815.5" font-size="19.8" fill="#800080" text-anchor="start" >liquid eqiv.</text>
<text x="66.0" y="837.5" font-size="19.8" fill="#800080" text-anchor="start" >3-hr accum</text>
<text x="66.0" y="866.5" font-size="19.8" fill="#00c000" text-anchor="start" >Pressure (hPa)</text>
<text x="66.0" y="917.5" font-size="19.8" fill="#ff0000" text-anchor="start" >Temperature (°C)</text>
<text x="66.0" y="951.5" font-size="19.8" fill="#008000" text-anchor="start" >Dew Point T (°C)</text>
<text x="59.0" y="1054.5" font-size="19.8" fill="#0000ff" text-anchor="start" >Wind Chill T (°C)</text>
<text x="1079.2" y="826.5" font-size="19.2" fill="#00c000" text-anchor="start" >(hPa)</text>
<text transform="translate(1090,353) rotate(90)" font-size="19.8" text-anchor="middle">kft MSL</text>
<text x="285.6" y="80.5" font-size="13.9" fill="#000" text-anchor="middle" >11 Jan</text>
<text x="285.6" y="96.3" font-size="14.5" fill="#000" text-anchor="middle" >00Z</text>
<text x="359.7" y="96.3" font-size="14.5" fill="#000" text-anchor="middle" >12Z</text>
<text x="433.8" y="80.5" font-size="13.9" fill="#000" text-anchor="middle" >12 Jan</text>
<text x="433.8" y="96.3" font-size="14.5" fill="#000" text-anchor="middle" >00Z</text>
<text x="507.9" y="96.3" font-size="14.5" fill="#000" text-anchor="middle" >12Z</text>
<text x="582.0" y="80.5" font-size="13.9" fill="#000" text-anchor="middle" >13 Jan</text>
<text x="582.0" y="96.3" font-size="14.5" fill="#000" text-anchor="middle" >00Z</text>
<text x="656.1" y="96.3" font-size="14.5" fill="#000" text-anchor="middle" >12Z</text>
<text x="730.2" y="80.5" font-size="13.9" fill="#000" text-anchor="middle" >14 Jan</text>
<text x="730.2" y="96.3" font-size="14.5" fill="#000" text-anchor="middle" >00Z</text>
<text x="804.3" y="96.3" font-size="14.5" fill="#000" text-anchor="middle" >12Z</text>
<text x="878.4" y="80.5" font-size="13.9" fill="#000" text-anchor="middle" >15 Jan</text>
<text x="878.4" y="96.3" font-size="14.5" fill="#000" text-anchor="middle" >00Z</text>
<text x="952.5" y="96.3" font-size="14.5" fill="#000" text-anchor="middle" >12Z</text>
<text x="1026.6" y="80.5" font-size="13.9" fill="#000" text-anchor="middle" >16 Jan</text>
<text x="1026.6" y="96.3" font-size="14.5" fill="#000" text-anchor="middle" >00Z</text>
<text x="285.6" y="1122.7" font-size="14.5" fill="#000" text-anchor="middle" >00Z</text>
<text x="285.6" y="1137.7" font-size="13.9" fill="#000" text-anchor="middle" >11 Jan</text>
<text x="359.7" y="1122.7" font-size="14.5" fill="#000" text-anchor="middle" >12Z</text>
<text x="433.8" y="1122.7" font-size="14.5" fill="#000" text-anchor="middle" >00Z</text>
<text x="433.8" y="1137.7" font-size="13.9" fill="#000" text-anchor="middle" >12 Jan</text>
<text x="507.9" y="1122.7" font-size="14.5" fill="#000" text-anchor="middle" >12Z</text>
<text x="582.0" y="1122.7" font-size="14.5" fill="#000" text-anchor="middle" >00Z</text>
<text x="582.0" y="1137.7" font-size="13.9" fill="#000" text-anchor="middle" >13 Jan</text>
<text x="656.1" y="1122.7" font-size="14.5" fill="#000" text-anchor="middle" >12Z</text>
<text x="730.2" y="1122.7" font-size="14.5" fill="#000" text-anchor="middle" >00Z</text>
<text x="730.2" y="1137.7" font-size="13.9" fill="#000" text-anchor="middle" >14 Jan</text>
<text x="804.3" y="1122.7" font-size="14.5" fill="#000" text-anchor="middle" >12Z</text>
<text x="878.4" y="1122.7" font-size="14.5" fill="#000" text-anchor="middle" >00Z</text>
<text x="878.4" y="1137.7" font-size="13.9" fill="#000" text-anchor="middle" >15 Jan</text>
<text x="952.5" y="1122.7" font-size="14.5" fill="#000" text-anchor="middle" >12Z</text>
<text x="1026.6" y="1122.7" font-size="14.5" fill="#000" text-anchor="middle" >00Z</text>
<text x="1026.6" y="1137.7" font-size="13.9" fill="#000" text-anchor="middle" >16 Jan</text>
<text x="275.0" y="129.0" font-size="13.9" fill="#000" text-anchor="end" >300</text>
<text x="275.0" y="166.0" font-size="13.9" fill="#000" text-anchor="end" >350</text>
<text x="275.0" y="203.0" font-size="13.9" fill="#000" text-anchor="end" >400</text>
<text x="275.0" y="240.0" font-size="13.9" fill="#000" text-anchor="end" >450</text>
<text x="275.0" y="277.0" font-size="13.9" fill="#000" text-anchor="end" >500</text>
<text x="275.0" y="314.0" font-size="13.9" fill="#000" text-anchor="end" >550</text>
<text x="275.0" y="351.0" font-size="13.9" fill="#000" text-anchor="end" >600</text>
<text x="275.0" y="388.0" font-size="13.9" fill="#000" text-anchor="end" >650</text>
<text x="275.0" y="425.0" font-size="13.9" fill="#000" text-anchor="end" >700</text>
<text x="275.0" y="462.0" font-size="13.9" fill="#000" text-anchor="end" >750</text>
<text x="275.0" y="499.0" font-size="13.9" fill="#000" text-anchor="end" >800</text>
<text x="275.0" y="536.0" font-size="13.9" fill="#000" text-anchor="end" >850</text>
<text x="275.0" y="573.0" font-size="13.9" fill="#000" text-anchor="end" >900</text>
<text x="275.0" y="610.0" font-size="13.9" fill="#000" text-anchor="end" >950</text>
<text x="1035.0" y="106.2" font-size="14.5" fill="#000" text-anchor="start" >30.0</text>
<text x="1035.0" y="159.2" font-size="14.5" fill="#000" text-anchor="start" >25.0</text>
<text x="1035.0" y="190.2" font-size="14.5" fill="#000" text-anchor="start" >22.5</text>
<text x="1035.0" y="224.2" font-size="14.5" fill="#000" text-anchor="start" >20.0</text>
<text x="1035.0" y="261.2" font-size="14.5" fill="#000" text-anchor="start" >17.5</text>
<text x="1035.0" y="301.2" font-size="14.5" fill="#000" text-anchor="start" >15.0</text>
<text x="1035.0" y="346.2" font-size="14.5" fill="#000" text-anchor="start" >12.5</text>
<text x="1035.0" y="394.2" font-size="14.5" fill="#000" text-anchor="start" >10.0</text>
<text x="1035.0" y="446.2" font-size="14.5" fill="#000" text-anchor="start" >7.5</text>
<text x="1035.0" y="503.2" font-size="14.5" fill="#000" text-anchor="start" >5.0</text>
<text x="1035.0" y="566.2" font-size="14.5" fill="#000" text-anchor="start" >2.5</text>
<text x="275.0" y="655.5" font-size="13.9" fill="#000" text-anchor="end" >18</text>
<text x="275.0" y="676.3" font-size="13.9" fill="#000" text-anchor="end" >15</text>
<text x="275.0" y="697.1" font-size="13.9" fill="#000" text-anchor="end" >12</text>
<text x="275.0" y="717.9" font-size="13.9" fill="#000" text-anchor="end" >9</text>
<text x="275.0" y="738.7" font-size="13.9" fill="#000" text-anchor="end" >6</text>
<text x="275.0" y="759.5" font-size="13.9" fill="#000" text-anchor="end" >3</text>
<text x="275.0" y="780.3" font-size="13.9" fill="#000" text-anchor="end" >0</text>
<text x="253.0" y="791.8" font-size="13.9" fill="#800080" text-anchor="end" >2.5</text>
<text x="253.0" y="807.9" font-size="13.9" fill="#800080" text-anchor="end" >2.0</text>
<text x="253.0" y="824.0" font-size="13.9" fill="#800080" text-anchor="end" >1.5</text>
<text x="253.0" y="840.0" font-size="13.9" fill="#800080" text-anchor="end" >1.0</text>
<text x="253.0" y="856.1" font-size="13.9" fill="#800080" text-anchor="end" >0.5</text>
<text x="253.0" y="872.2" font-size="13.9" fill="#800080" text-anchor="end" >0</text>
<text x="1036.0" y="791.6" font-size="13.9" fill="#00c000" text-anchor="start" >975</text>
<text x="1036.0" y="807.7" font-size="13.9" fill="#00c000" text-anchor="start" >972</text>
<text x="1036.0" y="823.8" font-size="13.9" fill="#00c000" text-anchor="start" >969</text>
<text x="1036.0" y="840.0" font-size="13.9" fill="#00c000" text-anchor="start" >966</text>
<text x="1036.0" y="856.1" font-size="13.9" fill="#00c000" text-anchor="start" >963</text>
<text x="1036.0" y="872.2" font-size="13.9" fill="#00c000" text-anchor="start" >960</text>
<text x="280.0" y="883.5" font-size="13.9" fill="#000" text-anchor="end" >3</text>
<text x="280.0" y="906.3" font-size="13.9" fill="#000" text-anchor="end" >0</text>
<text x="280.0" y="929.1" font-size="13.9" fill="#000" text-anchor="end" >-3</text>
<text x="280.0" y="951.8" font-size="13.9" fill="#000" text-anchor="end" >-6</text>
<text x="280.0" y="974.6" font-size="13.9" fill="#000" text-anchor="end" >-9</text>
<text x="280.0" y="997.4" font-size="13.9" fill="#000" text-anchor="end" >-12</text>
<text x="253.0" y="1008.2" font-size="13.9" fill="#000" text-anchor="end" >70</text>
<text x="253.0" y="1034.0" font-size="13.9" fill="#000" text-anchor="end" >40</text>
<text x="253.0" y="1059.7" font-size="13.9" fill="#000" text-anchor="end" >10</text>
<text x="253.0" y="1085.5" font-size="13.9" fill="#000" text-anchor="end" >-20</text>
<text x="253.0" y="1111.2" font-size="13.9" fill="#000" text-anchor="end" >-50</text>
</svg></body></html>
